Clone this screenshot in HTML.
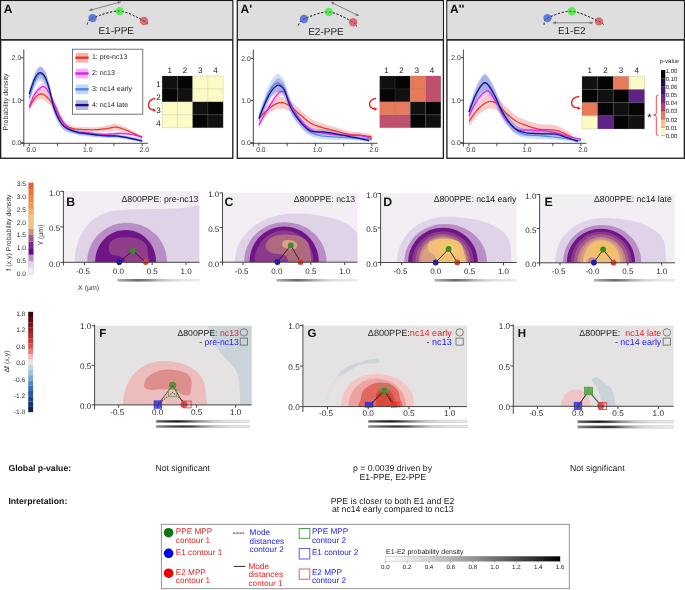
<!DOCTYPE html><html><head><meta charset="utf-8"><style>html,body{margin:0;padding:0;background:#fff;width:685px;height:590px;overflow:hidden}svg{display:block;will-change:transform}text{font-family:"Liberation Sans",sans-serif;text-rendering:geometricPrecision}</style></head><body>
<svg width="685" height="590" viewBox="0 0 685 590">
<rect x="0.65" y="0.65" width="232.15" height="157.6" fill="#fff" stroke="#1a1a1a" stroke-width="1.3"/>
<rect x="1.3" y="1.3" width="230.85" height="37.9" fill="#dedede"/>
<line x1="0.65" y1="39.8" x2="232.8" y2="39.8" stroke="#2a2a2a" stroke-width="1.7"/>
<text x="3.85" y="13.4" font-size="12" text-anchor="start" fill="#111" font-weight="bold" >A</text>
<path d="M87 24.5 L87.24 24.12 L87.42 23.64 L87.59 23.07 L87.8 22.43 L88.11 21.74 L88.54 21.01 L89.16 20.27 L90.01 19.52 L91.14 18.79 L92.6 18.1 L94.45 17.35 L96.69 16.47 L99.24 15.51 L102.03 14.53 L104.98 13.58 L108.03 12.71 L111.1 11.98 L114.12 11.43 L117.01 11.12 L119.7 11.1 L122.34 11.43 L125.08 12.1 L127.86 13.03 L130.63 14.15 L133.34 15.39 L135.93 16.69 L138.35 17.97 L140.54 19.16 L142.44 20.19 L144 21 L145.19 21.62 L146.04 22.17 L146.61 22.63 L146.95 23.03 L147.12 23.37 L147.16 23.66 L147.14 23.91 L147.1 24.13 L147.1 24.32 L147.2 24.5" fill="none" stroke="#222" stroke-width="0.85" stroke-dasharray="2.1 1.8"/>
<circle cx="92.6" cy="18.1" r="4.2" fill="#5b73e3" fill-opacity="0.95"/>
<circle cx="119.7" cy="11.1" r="4.2" fill="#55ea55" fill-opacity="0.95"/>
<circle cx="144" cy="21" r="4.2" fill="#dc6470" fill-opacity="0.95"/>
<path d="M87 24.5 L87.24 24.12 L87.42 23.64 L87.59 23.07 L87.8 22.43 L88.11 21.74 L88.54 21.01 L89.16 20.27 L90.01 19.52 L91.14 18.79 L92.6 18.1 L94.45 17.35 L96.69 16.47 L99.24 15.51 L102.03 14.53 L104.98 13.58 L108.03 12.71 L111.1 11.98 L114.12 11.43 L117.01 11.12 L119.7 11.1 L122.34 11.43 L125.08 12.1 L127.86 13.03 L130.63 14.15 L133.34 15.39 L135.93 16.69 L138.35 17.97 L140.54 19.16 L142.44 20.19 L144 21 L145.19 21.62 L146.04 22.17 L146.61 22.63 L146.95 23.03 L147.12 23.37 L147.16 23.66 L147.14 23.91 L147.1 24.13 L147.1 24.32 L147.2 24.5" fill="none" stroke="#222" stroke-width="0.8" stroke-dasharray="2.1 1.8" opacity="0.7"/>
<line x1="89.3" y1="10.4" x2="120.9" y2="1.9" stroke="#777" stroke-width="0.9"/>
<path d="M89.3 10.4 L92.78 11.02 L92 8.12 Z" fill="#777"/>
<path d="M120.9 1.9 L117.42 1.28 L118.2 4.18 Z" fill="#777"/>
<text x="116.2" y="34" font-size="10" text-anchor="middle" fill="#262626" font-weight="normal" >E1-PPE</text>
<rect x="237.3" y="0.65" width="206.1" height="157.6" fill="#fff" stroke="#1a1a1a" stroke-width="1.3"/>
<rect x="237.95" y="1.3" width="204.8" height="37.9" fill="#dedede"/>
<line x1="237.3" y1="39.8" x2="443.4" y2="39.8" stroke="#2a2a2a" stroke-width="1.7"/>
<text x="240.5" y="13.4" font-size="12" text-anchor="start" fill="#111" font-weight="bold" >A'</text>
<path d="M298.2 25.5 L298.46 25.12 L298.68 24.62 L298.92 24.04 L299.19 23.39 L299.55 22.69 L300.03 21.95 L300.68 21.19 L301.53 20.44 L302.62 19.7 L304 19 L305.71 18.24 L307.75 17.36 L310.06 16.39 L312.58 15.41 L315.24 14.46 L318 13.59 L320.8 12.85 L323.57 12.31 L326.25 12.01 L328.8 12 L331.34 12.35 L334.02 13.04 L336.78 13.99 L339.55 15.13 L342.28 16.41 L344.9 17.73 L347.35 19.05 L349.58 20.28 L351.51 21.35 L353.1 22.2 L354.31 22.88 L355.19 23.48 L355.79 24.01 L356.17 24.48 L356.37 24.89 L356.45 25.25 L356.46 25.56 L356.46 25.84 L356.49 26.08 L356.6 26.3" fill="none" stroke="#222" stroke-width="0.85" stroke-dasharray="2.1 1.8"/>
<circle cx="304" cy="19" r="4.2" fill="#5b73e3" fill-opacity="0.95"/>
<circle cx="328.8" cy="12" r="4.2" fill="#55ea55" fill-opacity="0.95"/>
<circle cx="353.1" cy="22.2" r="4.2" fill="#dc6470" fill-opacity="0.95"/>
<path d="M298.2 25.5 L298.46 25.12 L298.68 24.62 L298.92 24.04 L299.19 23.39 L299.55 22.69 L300.03 21.95 L300.68 21.19 L301.53 20.44 L302.62 19.7 L304 19 L305.71 18.24 L307.75 17.36 L310.06 16.39 L312.58 15.41 L315.24 14.46 L318 13.59 L320.8 12.85 L323.57 12.31 L326.25 12.01 L328.8 12 L331.34 12.35 L334.02 13.04 L336.78 13.99 L339.55 15.13 L342.28 16.41 L344.9 17.73 L347.35 19.05 L349.58 20.28 L351.51 21.35 L353.1 22.2 L354.31 22.88 L355.19 23.48 L355.79 24.01 L356.17 24.48 L356.37 24.89 L356.45 25.25 L356.46 25.56 L356.46 25.84 L356.49 26.08 L356.6 26.3" fill="none" stroke="#222" stroke-width="0.8" stroke-dasharray="2.1 1.8" opacity="0.7"/>
<line x1="331" y1="2.2" x2="358.9" y2="15.8" stroke="#777" stroke-width="0.9"/>
<path d="M331 2.2 L333.22 4.95 L334.53 2.25 Z" fill="#777"/>
<path d="M358.9 15.8 L356.68 13.05 L355.37 15.75 Z" fill="#777"/>
<text x="326" y="35" font-size="10" text-anchor="middle" fill="#262626" font-weight="normal" >E2-PPE</text>
<rect x="446.9" y="0.65" width="237.4" height="157.6" fill="#fff" stroke="#1a1a1a" stroke-width="1.3"/>
<rect x="447.55" y="1.3" width="236.1" height="37.9" fill="#dedede"/>
<line x1="446.9" y1="39.8" x2="684.3" y2="39.8" stroke="#2a2a2a" stroke-width="1.7"/>
<text x="450.1" y="13.4" font-size="12" text-anchor="start" fill="#111" font-weight="bold" >A''</text>
<path d="M544 24.8 L544.11 24.4 L544.14 23.89 L544.14 23.29 L544.15 22.61 L544.23 21.88 L544.43 21.11 L544.81 20.33 L545.41 19.55 L546.29 18.8 L547.5 18.1 L549.07 17.35 L550.98 16.48 L553.17 15.54 L555.59 14.58 L558.18 13.65 L560.88 12.81 L563.65 12.1 L566.43 11.58 L569.16 11.3 L571.8 11.3 L574.5 11.66 L577.4 12.35 L580.42 13.3 L583.5 14.44 L586.56 15.71 L589.52 17.03 L592.31 18.33 L594.86 19.54 L597.08 20.59 L598.9 21.4 L600.31 22.03 L601.38 22.56 L602.16 23.02 L602.69 23.41 L603.04 23.73 L603.26 24.01 L603.39 24.24 L603.49 24.44 L603.61 24.63 L603.8 24.8" fill="none" stroke="#222" stroke-width="0.85" stroke-dasharray="2.1 1.8"/>
<circle cx="547.5" cy="18.1" r="4.2" fill="#5b73e3" fill-opacity="0.95"/>
<circle cx="571.8" cy="11.3" r="4.2" fill="#55ea55" fill-opacity="0.95"/>
<circle cx="598.9" cy="21.4" r="4.2" fill="#dc6470" fill-opacity="0.95"/>
<path d="M544 24.8 L544.11 24.4 L544.14 23.89 L544.14 23.29 L544.15 22.61 L544.23 21.88 L544.43 21.11 L544.81 20.33 L545.41 19.55 L546.29 18.8 L547.5 18.1 L549.07 17.35 L550.98 16.48 L553.17 15.54 L555.59 14.58 L558.18 13.65 L560.88 12.81 L563.65 12.1 L566.43 11.58 L569.16 11.3 L571.8 11.3 L574.5 11.66 L577.4 12.35 L580.42 13.3 L583.5 14.44 L586.56 15.71 L589.52 17.03 L592.31 18.33 L594.86 19.54 L597.08 20.59 L598.9 21.4 L600.31 22.03 L601.38 22.56 L602.16 23.02 L602.69 23.41 L603.04 23.73 L603.26 24.01 L603.39 24.24 L603.49 24.44 L603.61 24.63 L603.8 24.8" fill="none" stroke="#222" stroke-width="0.8" stroke-dasharray="2.1 1.8" opacity="0.7"/>
<line x1="552.8" y1="22.8" x2="593.1" y2="22.8" stroke="#777" stroke-width="0.9"/>
<path d="M552.8 22.8 L556 24.3 L556 21.3 Z" fill="#777"/>
<path d="M593.1 22.8 L589.9 21.3 L589.9 24.3 Z" fill="#777"/>
<text x="571.8" y="34" font-size="10" text-anchor="middle" fill="#262626" font-weight="normal" >E1-E2</text>
<g stroke="#333" stroke-width="0.9" fill="none">
<line x1="23.8" y1="49.5" x2="23.8" y2="146.6"/>
<line x1="21" y1="143.3" x2="147.85" y2="143.3"/>
<line x1="21" y1="142.8" x2="23.8" y2="142.8"/>
<line x1="21" y1="100.3" x2="23.8" y2="100.3"/>
<line x1="21" y1="57.8" x2="23.8" y2="57.8"/>
<line x1="29.2" y1="143.3" x2="29.2" y2="146.2"/>
<line x1="57.45" y1="143.3" x2="57.45" y2="146.2"/>
<line x1="85.7" y1="143.3" x2="85.7" y2="146.2"/>
<line x1="113.95" y1="143.3" x2="113.95" y2="146.2"/>
<line x1="142.2" y1="143.3" x2="142.2" y2="146.2"/>
</g>
<text x="21.2" y="145.2" font-size="6.8" text-anchor="end" fill="#3a3a3a" font-weight="normal" >0.0</text>
<text x="21.2" y="102.7" font-size="6.8" text-anchor="end" fill="#3a3a3a" font-weight="normal" >1.0</text>
<text x="21.2" y="60.2" font-size="6.8" text-anchor="end" fill="#3a3a3a" font-weight="normal" >2.0</text>
<text x="31.2" y="151.9" font-size="6.8" text-anchor="middle" fill="#3a3a3a" font-weight="normal" >0.0</text>
<text x="87.7" y="151.9" font-size="6.8" text-anchor="middle" fill="#3a3a3a" font-weight="normal" >1.0</text>
<text x="144.2" y="151.9" font-size="6.8" text-anchor="middle" fill="#3a3a3a" font-weight="normal" >2.0</text>
<text transform="translate(7.8 102) rotate(-90)" font-size="7" text-anchor="middle" fill="#333">Probability density</text>
<path d="M29.2 103.28 L29.53 102.67 L29.96 101.86 L30.46 100.9 L31.03 99.83 L31.64 98.68 L32.28 97.52 L32.94 96.37 L33.59 95.29 L34.24 94.32 L34.85 93.5 L35.45 92.79 L36.06 92.11 L36.67 91.47 L37.3 90.88 L37.92 90.35 L38.55 89.88 L39.18 89.48 L39.81 89.16 L40.44 88.92 L41.06 88.78 L41.68 88.74 L42.3 88.79 L42.91 88.93 L43.52 89.14 L44.14 89.43 L44.75 89.78 L45.37 90.19 L46 90.66 L46.64 91.26 L47.28 91.94 L47.94 92.66 L48.6 93.46 L49.27 94.31 L49.95 95.23 L50.63 96.19 L51.32 97.21 L52.01 98.27 L52.69 99.37 L53.38 100.51 L54.06 101.68 L54.74 102.94 L55.43 104.31 L56.13 105.78 L56.83 107.3 L57.52 108.84 L58.21 110.37 L58.89 111.85 L59.56 113.25 L60.21 114.53 L60.84 115.67 L61.44 116.67 L62.01 117.57 L62.55 118.39 L63.07 119.14 L63.59 119.82 L64.12 120.46 L64.66 121.05 L65.23 121.62 L65.84 122.18 L66.49 122.72 L67.17 123.25 L67.87 123.74 L68.59 124.19 L69.33 124.6 L70.09 124.99 L70.88 125.35 L71.71 125.7 L72.56 126.02 L73.46 126.34 L74.4 126.65 L75.39 126.81 L76.44 126.94 L77.54 127.04 L78.68 127.12 L79.84 127.18 L81.02 127.22 L82.2 127.26 L83.39 127.28 L84.55 127.31 L85.7 127.33 L86.83 127.35 L87.96 127.37 L89.09 127.38 L90.22 127.38 L91.35 127.38 L92.48 127.36 L93.61 127.33 L94.74 127.29 L95.87 127.23 L97 127.16 L98.15 127.07 L99.33 126.95 L100.53 126.82 L101.74 126.67 L102.93 126.5 L104.11 126.26 L105.24 126.03 L106.33 125.8 L107.35 125.58 L108.3 125.38 L109.16 125.17 L109.94 124.95 L110.65 124.72 L111.31 124.5 L111.94 124.28 L112.54 124.08 L113.15 123.9 L113.76 123.75 L114.4 123.71 L115.08 123.74 L115.77 123.82 L116.45 123.93 L117.12 124.06 L117.79 124.23 L118.47 124.43 L119.18 124.65 L119.91 124.91 L120.69 125.2 L121.53 125.53 L122.42 125.89 L123.41 126.29 L124.48 126.76 L125.61 127.27 L126.8 127.82 L128 128.4 L129.22 128.99 L130.42 129.58 L131.58 130.16 L132.69 130.71 L133.72 131.24 L134.73 131.76 L135.74 132.31 L136.74 132.86 L137.73 133.42 L138.67 133.95 L139.56 134.47 L140.37 134.94 L141.09 135.36 L141.71 135.72 L142.2 136 L142.2 139.4 L141.71 139.18 L141.09 138.9 L140.37 138.56 L139.56 138.19 L138.67 137.78 L137.73 137.35 L136.74 136.92 L135.74 136.48 L134.73 136.06 L133.72 135.66 L132.69 135.26 L131.58 134.83 L130.42 134.39 L129.22 133.95 L128 133.51 L126.8 133.08 L125.61 132.67 L124.48 132.29 L123.41 131.95 L122.42 131.66 L121.53 131.42 L120.69 131.19 L119.91 130.99 L119.18 130.82 L118.47 130.68 L117.79 130.57 L117.12 130.48 L116.45 130.43 L115.77 130.4 L115.08 130.41 L114.4 130.45 L113.76 130.53 L113.15 130.58 L112.54 130.67 L111.94 130.78 L111.31 130.9 L110.65 131.03 L109.94 131.15 L109.16 131.25 L108.3 131.33 L107.35 131.39 L106.33 131.45 L105.24 131.52 L104.11 131.58 L102.93 131.64 L101.74 131.74 L100.53 131.85 L99.33 131.95 L98.15 132.03 L97 132.09 L95.87 132.13 L94.74 132.15 L93.61 132.16 L92.48 132.15 L91.35 132.14 L90.22 132.11 L89.09 132.07 L87.96 132.03 L86.83 131.98 L85.7 131.92 L84.55 131.86 L83.39 131.8 L82.2 131.74 L81.02 131.67 L79.84 131.59 L78.68 131.5 L77.54 131.39 L76.44 131.25 L75.39 131.09 L74.4 130.9 L73.46 130.82 L72.56 130.72 L71.71 130.59 L70.88 130.45 L70.09 130.28 L69.33 130.07 L68.59 129.83 L67.87 129.56 L67.17 129.24 L66.49 128.88 L65.84 128.49 L65.23 128.08 L64.66 127.65 L64.12 127.18 L63.59 126.68 L63.07 126.12 L62.55 125.5 L62.01 124.81 L61.44 124.04 L60.84 123.18 L60.21 122.2 L59.56 121.07 L58.89 119.83 L58.21 118.51 L57.52 117.15 L56.83 115.78 L56.13 114.43 L55.43 113.13 L54.74 111.92 L54.06 110.82 L53.38 109.82 L52.69 108.84 L52.01 107.91 L51.32 107.01 L50.63 106.16 L49.95 105.36 L49.27 104.61 L48.6 103.92 L47.94 103.28 L47.28 102.71 L46.64 102.19 L46 101.68 L45.37 101.12 L44.75 100.62 L44.14 100.18 L43.52 99.8 L42.91 99.49 L42.3 99.26 L41.68 99.12 L41.06 99.07 L40.44 99.11 L39.81 99.25 L39.18 99.48 L38.55 99.78 L37.92 100.16 L37.3 100.6 L36.67 101.1 L36.06 101.64 L35.45 102.23 L34.85 102.85 L34.24 103.57 L33.59 104.45 L32.94 105.43 L32.28 106.48 L31.64 107.55 L31.03 108.6 L30.46 109.59 L29.96 110.48 L29.53 111.22 L29.2 111.78 Z" fill="#f08a8a" fill-opacity="0.45"/>
<path d="M29.2 103.7 L29.53 102.87 L29.93 101.78 L30.41 100.47 L30.94 99.01 L31.53 97.45 L32.16 95.85 L32.81 94.27 L33.48 92.78 L34.17 91.41 L34.85 90.24 L35.56 89.19 L36.32 88.14 L37.13 87.13 L37.96 86.18 L38.81 85.29 L39.65 84.49 L40.48 83.81 L41.29 83.25 L42.05 82.85 L42.76 82.62 L43.42 82.57 L44.03 82.69 L44.62 82.95 L45.18 83.35 L45.73 83.85 L46.26 84.47 L46.79 85.22 L47.32 86.03 L47.86 86.88 L48.41 87.75 L48.97 88.68 L49.52 89.69 L50.07 90.77 L50.62 91.92 L51.16 93.13 L51.72 94.39 L52.28 95.69 L52.86 97.02 L53.45 98.37 L54.06 99.74 L54.69 101.17 L55.34 102.7 L56.01 104.3 L56.69 105.95 L57.38 107.61 L58.07 109.26 L58.77 110.88 L59.47 112.43 L60.16 113.89 L60.84 115.23 L61.51 116.47 L62.15 117.65 L62.79 118.77 L63.42 119.84 L64.05 120.86 L64.7 121.82 L65.38 122.73 L66.08 123.59 L66.83 124.41 L67.62 125.19 L68.47 125.91 L69.38 126.58 L70.33 127.19 L71.31 127.75 L72.32 128.27 L73.33 128.74 L74.34 129.18 L75.33 129.51 L76.3 129.8 L77.22 130.07 L78.08 130.29 L78.86 130.45 L79.58 130.56 L80.29 130.63 L81 130.68 L81.75 130.71 L82.57 130.74 L83.48 130.79 L84.51 130.86 L85.7 130.97 L87.05 131.13 L88.55 131.32 L90.16 131.53 L91.87 131.75 L93.65 131.98 L95.46 132.19 L97.3 132.39 L99.12 132.56 L100.92 132.7 L102.65 132.78 L104.37 132.8 L106.13 132.76 L107.91 132.69 L109.7 132.58 L111.48 132.46 L113.23 132.33 L114.93 132.21 L116.57 132.12 L118.13 132.05 L119.6 132.03 L120.96 132.05 L122.22 132.08 L123.41 132.13 L124.53 132.2 L125.6 132.28 L126.65 132.38 L127.69 132.5 L128.73 132.63 L129.8 132.79 L130.9 132.95 L132.08 133.16 L133.34 133.41 L134.65 133.7 L135.96 134.01 L137.26 134.32 L138.49 134.63 L139.64 134.93 L140.66 135.19 L141.53 135.41 L142.2 135.58 L142.2 138.13 L141.53 137.97 L140.66 137.76 L139.64 137.51 L138.49 137.23 L137.26 136.93 L135.96 136.63 L134.65 136.34 L133.34 136.07 L132.08 135.84 L130.9 135.65 L129.8 135.49 L128.73 135.35 L127.69 135.23 L126.65 135.13 L125.6 135.04 L124.53 134.97 L123.41 134.92 L122.22 134.88 L120.96 134.87 L119.6 134.87 L118.13 134.9 L116.57 134.99 L114.93 135.11 L113.23 135.25 L111.48 135.4 L109.7 135.54 L107.91 135.67 L106.13 135.77 L104.37 135.82 L102.65 135.82 L100.92 135.76 L99.12 135.65 L97.3 135.51 L95.46 135.33 L93.65 135.14 L91.87 134.93 L90.16 134.73 L88.55 134.54 L87.05 134.37 L85.7 134.23 L84.51 134.13 L83.48 134.07 L82.57 134.04 L81.75 134.02 L81 133.99 L80.29 133.96 L79.58 133.9 L78.86 133.8 L78.08 133.65 L77.22 133.43 L76.3 133.17 L75.33 132.89 L74.34 132.59 L73.33 132.34 L72.32 132.04 L71.31 131.71 L70.33 131.32 L69.38 130.88 L68.47 130.38 L67.62 129.81 L66.83 129.18 L66.08 128.5 L65.38 127.76 L64.7 126.97 L64.05 126.12 L63.42 125.22 L62.79 124.27 L62.15 123.26 L61.51 122.2 L60.84 121.07 L60.16 119.86 L59.47 118.52 L58.77 117.1 L58.07 115.61 L57.38 114.08 L56.69 112.54 L56.01 111.02 L55.34 109.54 L54.69 108.13 L54.06 106.81 L53.45 105.55 L52.86 104.3 L52.28 103.08 L51.72 101.88 L51.16 100.72 L50.62 99.61 L50.07 98.56 L49.52 97.58 L48.97 96.67 L48.41 95.85 L47.86 95.07 L47.32 94.32 L46.79 93.61 L46.26 92.95 L45.73 92.31 L45.18 91.75 L44.62 91.3 L44.03 90.97 L43.42 90.8 L42.76 90.78 L42.05 90.94 L41.29 91.27 L40.48 91.74 L39.65 92.34 L38.81 93.05 L37.96 93.85 L37.13 94.73 L36.32 95.66 L35.56 96.62 L34.85 97.61 L34.17 98.71 L33.48 100 L32.81 101.44 L32.16 102.95 L31.53 104.48 L30.94 105.98 L30.41 107.39 L29.93 108.65 L29.53 109.71 L29.2 110.5 Z" fill="#f2a0f2" fill-opacity="0.45"/>
<path d="M29.2 92.65 L29.54 91.53 L29.98 90.04 L30.5 88.25 L31.08 86.25 L31.71 84.13 L32.36 81.97 L33.02 79.85 L33.67 77.86 L34.28 76.07 L34.85 74.59 L35.38 73.32 L35.9 72.14 L36.42 71.05 L36.92 70.05 L37.43 69.16 L37.93 68.38 L38.43 67.71 L38.93 67.15 L39.43 66.72 L39.94 66.41 L40.45 66.23 L40.96 66.35 L41.48 66.61 L42 66.99 L42.51 67.48 L43.03 68.07 L43.54 68.75 L44.04 69.5 L44.53 70.34 L45.02 71.23 L45.49 72.21 L45.96 73.3 L46.42 74.48 L46.87 75.75 L47.32 77.1 L47.76 78.52 L48.2 79.99 L48.65 81.51 L49.09 83.07 L49.54 84.66 L49.98 86.33 L50.42 88.12 L50.84 90 L51.27 91.94 L51.69 93.91 L52.13 95.88 L52.58 97.83 L53.05 99.71 L53.54 101.51 L54.06 103.19 L54.61 104.78 L55.19 106.33 L55.8 107.84 L56.42 109.3 L57.06 110.71 L57.71 112.06 L58.36 113.36 L59 114.6 L59.65 115.77 L60.28 116.88 L60.88 117.9 L61.45 118.83 L62 119.69 L62.54 120.49 L63.1 121.23 L63.68 121.94 L64.29 122.61 L64.96 123.28 L65.69 123.94 L66.49 124.61 L67.39 125.29 L68.38 125.96 L69.45 126.61 L70.57 127.25 L71.72 127.87 L72.88 128.46 L74.03 129.02 L75.15 129.44 L76.22 129.78 L77.22 130.09 L78.13 130.34 L78.93 130.55 L79.67 130.7 L80.37 130.83 L81.07 130.93 L81.81 131.02 L82.61 131.11 L83.5 131.2 L84.52 131.32 L85.7 131.47 L87.05 131.64 L88.55 131.83 L90.16 132.03 L91.87 132.23 L93.65 132.44 L95.46 132.65 L97.3 132.85 L99.12 133.04 L100.92 133.22 L102.65 133.38 L104.37 133.52 L106.13 133.63 L107.91 133.74 L109.7 133.83 L111.48 133.91 L113.23 134 L114.93 134.09 L116.57 134.19 L118.13 134.31 L119.6 134.44 L120.96 134.59 L122.22 134.75 L123.41 134.91 L124.53 135.08 L125.6 135.26 L126.65 135.45 L127.69 135.64 L128.73 135.85 L129.8 136.06 L130.9 136.28 L132.08 136.53 L133.34 136.81 L134.65 137.11 L135.96 137.43 L137.26 137.74 L138.49 138.05 L139.64 138.34 L140.66 138.6 L141.53 138.81 L142.2 138.98 L142.2 142.38 L141.53 142.23 L140.66 142.03 L139.64 141.8 L138.49 141.54 L137.26 141.27 L135.96 140.98 L134.65 140.7 L133.34 140.43 L132.08 140.18 L130.9 139.97 L129.8 139.77 L128.73 139.59 L127.69 139.41 L126.65 139.24 L125.6 139.08 L124.53 138.92 L123.41 138.78 L122.22 138.65 L120.96 138.52 L119.6 138.41 L118.13 138.31 L116.57 138.24 L114.93 138.18 L113.23 138.13 L111.48 138.09 L109.7 138.04 L107.91 138 L106.13 137.94 L104.37 137.86 L102.65 137.77 L100.92 137.66 L99.12 137.52 L97.3 137.38 L95.46 137.22 L93.65 137.06 L91.87 136.9 L90.16 136.73 L88.55 136.57 L87.05 136.42 L85.7 136.28 L84.52 136.17 L83.5 136.08 L82.61 136 L81.81 135.93 L81.07 135.86 L80.37 135.78 L79.67 135.67 L78.93 135.53 L78.13 135.35 L77.22 135.11 L76.22 134.83 L75.15 134.52 L74.03 134.23 L72.88 134.02 L71.72 133.77 L70.57 133.5 L69.45 133.2 L68.38 132.87 L67.39 132.5 L66.49 132.09 L65.69 131.66 L64.96 131.22 L64.29 130.76 L63.68 130.26 L63.1 129.73 L62.54 129.15 L62 128.52 L61.45 127.83 L60.88 127.07 L60.28 126.23 L59.65 125.31 L59 124.33 L58.36 123.29 L57.71 122.18 L57.06 121.02 L56.42 119.81 L55.8 118.54 L55.19 117.21 L54.61 115.84 L54.06 114.41 L53.54 112.89 L53.05 111.24 L52.58 109.49 L52.13 107.68 L51.69 105.84 L51.27 104 L50.84 102.18 L50.42 100.43 L49.98 98.77 L49.54 97.24 L49.09 95.79 L48.65 94.36 L48.2 92.97 L47.76 91.63 L47.32 90.35 L46.87 89.14 L46.42 88 L45.96 86.95 L45.49 86.01 L45.02 85.17 L44.53 84.42 L44.04 83.74 L43.54 83.13 L43.03 82.61 L42.51 82.17 L42 81.84 L41.48 81.62 L40.96 81.51 L40.45 81.51 L39.94 81.49 L39.43 81.61 L38.93 81.86 L38.43 82.23 L37.93 82.71 L37.43 83.31 L36.92 84.01 L36.42 84.81 L35.9 85.71 L35.38 86.69 L34.85 87.76 L34.28 89.04 L33.67 90.59 L33.02 92.34 L32.36 94.21 L31.71 96.12 L31.08 98.01 L30.5 99.79 L29.98 101.38 L29.54 102.71 L29.2 103.7 Z" fill="#a8c0f4" fill-opacity="0.5"/>
<path d="M29.2 89.68 L29.54 88.64 L29.98 87.26 L30.5 85.6 L31.08 83.74 L31.71 81.78 L32.36 79.79 L33.02 77.84 L33.67 76.02 L34.28 74.42 L34.85 73.1 L35.38 72.01 L35.9 71.03 L36.42 70.15 L36.92 69.37 L37.43 68.7 L37.93 68.13 L38.43 67.65 L38.93 67.28 L39.43 67 L39.94 66.81 L40.45 66.72 L40.96 66.85 L41.48 67.09 L42 67.43 L42.51 67.86 L43.03 68.38 L43.54 69 L44.04 69.69 L44.53 70.47 L45.02 71.32 L45.49 72.26 L45.96 73.3 L46.42 74.45 L46.87 75.68 L47.32 76.99 L47.76 78.37 L48.2 79.81 L48.65 81.3 L49.09 82.83 L49.54 84.41 L49.98 86.06 L50.42 87.85 L50.84 89.73 L51.27 91.67 L51.69 93.65 L52.13 95.65 L52.58 97.64 L53.05 99.57 L53.54 101.42 L54.06 103.15 L54.61 104.8 L55.19 106.43 L55.8 108.03 L56.42 109.58 L57.06 111.09 L57.71 112.53 L58.36 113.91 L59 115.22 L59.65 116.44 L60.28 117.57 L60.88 118.58 L61.45 119.49 L62 120.3 L62.54 121.04 L63.1 121.71 L63.68 122.34 L64.29 122.94 L64.96 123.53 L65.69 124.13 L66.49 124.76 L67.39 125.4 L68.38 126.04 L69.45 126.67 L70.57 127.29 L71.72 127.89 L72.88 128.47 L74.03 129.01 L75.15 129.43 L76.22 129.78 L77.22 130.09 L78.13 130.34 L78.93 130.54 L79.67 130.69 L80.37 130.81 L81.07 130.9 L81.81 130.99 L82.61 131.08 L83.5 131.18 L84.52 131.3 L85.7 131.47 L87.06 131.67 L88.59 131.9 L90.25 132.15 L92.01 132.42 L93.82 132.68 L95.67 132.95 L97.51 133.2 L99.31 133.43 L101.03 133.64 L102.65 133.8 L104.18 133.93 L105.66 134 L107.1 134.05 L108.5 134.07 L109.89 134.08 L111.26 134.1 L112.63 134.12 L114 134.18 L115.38 134.27 L116.78 134.41 L118.2 134.59 L119.65 134.82 L121.1 135.07 L122.56 135.35 L124.01 135.64 L125.45 135.94 L126.87 136.25 L128.26 136.56 L129.6 136.85 L130.9 137.13 L132.2 137.42 L133.52 137.72 L134.85 138.03 L136.17 138.34 L137.43 138.65 L138.63 138.94 L139.73 139.22 L140.71 139.46 L141.54 139.67 L142.2 139.83 L142.2 142.38 L141.54 142.23 L140.71 142.05 L139.73 141.83 L138.63 141.58 L137.43 141.32 L136.17 141.04 L134.85 140.76 L133.52 140.48 L132.2 140.22 L130.9 139.97 L129.6 139.72 L128.26 139.46 L126.87 139.19 L125.45 138.91 L124.01 138.65 L122.56 138.39 L121.1 138.15 L119.65 137.93 L118.2 137.74 L116.78 137.59 L115.38 137.49 L114 137.43 L112.63 137.42 L111.26 137.42 L109.89 137.44 L108.5 137.46 L107.1 137.48 L105.66 137.47 L104.18 137.43 L102.65 137.35 L101.03 137.22 L99.31 137.06 L97.51 136.87 L95.67 136.66 L93.82 136.45 L92.01 136.22 L90.25 136 L88.59 135.79 L87.06 135.6 L85.7 135.43 L84.52 135.3 L83.5 135.2 L82.61 135.12 L81.81 135.05 L81.07 134.99 L80.37 134.91 L79.67 134.81 L78.93 134.68 L78.13 134.5 L77.22 134.26 L76.22 133.98 L75.15 133.66 L74.03 133.36 L72.88 133.12 L71.72 132.85 L70.57 132.55 L69.45 132.23 L68.38 131.88 L67.39 131.5 L66.49 131.09 L65.69 130.68 L64.96 130.27 L64.29 129.85 L63.68 129.41 L63.1 128.93 L62.54 128.41 L62 127.82 L61.45 127.15 L60.88 126.39 L60.28 125.53 L59.65 124.57 L59 123.52 L58.36 122.39 L57.71 121.18 L57.06 119.9 L56.42 118.56 L55.8 117.17 L55.19 115.74 L54.61 114.26 L54.06 112.75 L53.54 111.16 L53.05 109.44 L52.58 107.63 L52.13 105.77 L51.69 103.87 L51.27 101.95 L50.84 100.07 L50.42 98.26 L49.98 96.54 L49.54 94.95 L49.09 93.44 L48.65 91.97 L48.2 90.55 L47.76 89.17 L47.32 87.86 L46.87 86.62 L46.42 85.46 L45.96 84.38 L45.49 83.41 L45.02 82.54 L44.53 81.76 L44.04 81.06 L43.54 80.44 L43.03 79.9 L42.51 79.46 L42 79.1 L41.48 78.84 L40.96 78.68 L40.45 78.61 L39.94 78.54 L39.43 78.57 L38.93 78.7 L38.43 78.93 L37.93 79.25 L37.43 79.68 L36.92 80.2 L36.42 80.82 L35.9 81.54 L35.38 82.37 L34.85 83.3 L34.28 84.44 L33.67 85.87 L33.02 87.49 L32.36 89.24 L31.71 91.04 L31.08 92.81 L30.5 94.49 L29.98 95.99 L29.54 97.24 L29.2 98.18 Z" fill="#8888cc" fill-opacity="0.45"/>
<path d="M29.2 107.53 L29.53 106.95 L29.96 106.17 L30.46 105.25 L31.03 104.21 L31.64 103.12 L32.28 102 L32.94 100.9 L33.59 99.87 L34.24 98.95 L34.85 98.18 L35.45 97.51 L36.06 96.88 L36.67 96.28 L37.3 95.74 L37.92 95.25 L38.55 94.83 L39.18 94.48 L39.81 94.2 L40.44 94.02 L41.06 93.93 L41.68 93.93 L42.3 94.03 L42.91 94.21 L43.52 94.47 L44.14 94.8 L44.75 95.2 L45.37 95.66 L46 96.17 L46.64 96.73 L47.28 97.33 L47.94 97.97 L48.6 98.69 L49.27 99.46 L49.95 100.29 L50.63 101.18 L51.32 102.11 L52.01 103.09 L52.69 104.1 L53.38 105.16 L54.06 106.25 L54.74 107.43 L55.43 108.72 L56.13 110.1 L56.83 111.54 L57.52 113 L58.21 114.44 L58.89 115.84 L59.56 117.16 L60.21 118.36 L60.84 119.43 L61.44 120.35 L62.01 121.19 L62.55 121.94 L63.07 122.63 L63.59 123.25 L64.12 123.82 L64.66 124.35 L65.23 124.85 L65.84 125.33 L66.49 125.8 L67.17 126.24 L67.87 126.65 L68.59 127.01 L69.33 127.34 L70.09 127.63 L70.88 127.9 L71.71 128.15 L72.56 128.37 L73.46 128.58 L74.4 128.78 L75.39 128.95 L76.44 129.09 L77.54 129.21 L78.68 129.31 L79.84 129.39 L81.02 129.45 L82.2 129.5 L83.39 129.54 L84.55 129.58 L85.7 129.62 L86.83 129.67 L87.96 129.7 L89.09 129.73 L90.22 129.75 L91.35 129.76 L92.48 129.76 L93.61 129.75 L94.74 129.72 L95.87 129.68 L97 129.62 L98.15 129.55 L99.33 129.45 L100.53 129.34 L101.74 129.21 L102.93 129.07 L104.11 128.92 L105.24 128.77 L106.33 128.63 L107.35 128.48 L108.3 128.35 L109.16 128.21 L109.94 128.05 L110.65 127.87 L111.31 127.7 L111.94 127.53 L112.54 127.37 L113.15 127.24 L113.76 127.14 L114.4 127.08 L115.08 127.08 L115.77 127.11 L116.45 127.18 L117.12 127.27 L117.79 127.4 L118.47 127.55 L119.18 127.74 L119.91 127.95 L120.69 128.2 L121.53 128.47 L122.42 128.78 L123.41 129.12 L124.48 129.53 L125.61 129.97 L126.8 130.45 L128 130.95 L129.22 131.47 L130.42 131.99 L131.58 132.49 L132.69 132.99 L133.72 133.45 L134.73 133.91 L135.74 134.4 L136.74 134.89 L137.73 135.38 L138.67 135.87 L139.56 136.33 L140.37 136.75 L141.09 137.13 L141.71 137.45 L142.2 137.7" fill="none" stroke="#e8392a" stroke-width="1.25"/>
<path d="M29.2 107.1 L29.53 106.29 L29.93 105.21 L30.41 103.93 L30.94 102.49 L31.53 100.96 L32.16 99.4 L32.81 97.86 L33.48 96.39 L34.17 95.06 L34.85 93.93 L35.56 92.91 L36.32 91.9 L37.13 90.93 L37.96 90.02 L38.81 89.17 L39.65 88.42 L40.48 87.77 L41.29 87.26 L42.05 86.9 L42.76 86.7 L43.42 86.68 L44.03 86.83 L44.62 87.12 L45.18 87.55 L45.73 88.08 L46.26 88.71 L46.79 89.41 L47.32 90.17 L47.86 90.98 L48.41 91.8 L48.97 92.67 L49.52 93.63 L50.07 94.67 L50.62 95.77 L51.16 96.93 L51.72 98.13 L52.28 99.38 L52.86 100.66 L53.45 101.96 L54.06 103.28 L54.69 104.65 L55.34 106.12 L56.01 107.66 L56.69 109.25 L57.38 110.85 L58.07 112.43 L58.77 113.99 L59.47 115.47 L60.16 116.87 L60.84 118.15 L61.51 119.33 L62.15 120.46 L62.79 121.52 L63.42 122.53 L64.05 123.49 L64.7 124.39 L65.38 125.24 L66.08 126.04 L66.83 126.8 L67.62 127.5 L68.47 128.15 L69.38 128.73 L70.33 129.26 L71.31 129.73 L72.32 130.16 L73.33 130.54 L74.34 130.89 L75.33 131.2 L76.3 131.49 L77.22 131.75 L78.08 131.97 L78.86 132.12 L79.58 132.23 L80.29 132.29 L81 132.33 L81.75 132.36 L82.57 132.39 L83.48 132.43 L84.51 132.5 L85.7 132.6 L87.05 132.75 L88.55 132.93 L90.16 133.13 L91.87 133.34 L93.65 133.56 L95.46 133.76 L97.3 133.95 L99.12 134.11 L100.92 134.23 L102.65 134.3 L104.37 134.31 L106.13 134.27 L107.91 134.18 L109.7 134.06 L111.48 133.93 L113.23 133.79 L114.93 133.66 L116.57 133.55 L118.13 133.48 L119.6 133.45 L120.96 133.46 L122.22 133.48 L123.41 133.53 L124.53 133.59 L125.6 133.66 L126.65 133.76 L127.69 133.87 L128.73 133.99 L129.8 134.14 L130.9 134.3 L132.08 134.5 L133.34 134.74 L134.65 135.02 L135.96 135.32 L137.26 135.63 L138.49 135.93 L139.64 136.22 L140.66 136.48 L141.53 136.69 L142.2 136.85" fill="none" stroke="#e41fe6" stroke-width="1.25"/>
<path d="M29.2 98.18 L29.54 97.12 L29.98 95.71 L30.5 94.02 L31.08 92.13 L31.71 90.13 L32.36 88.09 L33.02 86.09 L33.67 84.22 L34.28 82.56 L34.85 81.18 L35.38 80 L35.9 78.92 L36.42 77.93 L36.92 77.03 L37.43 76.23 L37.93 75.54 L38.43 74.97 L38.93 74.5 L39.43 74.16 L39.94 73.95 L40.45 73.87 L40.96 73.93 L41.48 74.11 L42 74.42 L42.51 74.83 L43.03 75.34 L43.54 75.94 L44.04 76.62 L44.53 77.38 L45.02 78.2 L45.49 79.11 L45.96 80.12 L46.42 81.24 L46.87 82.44 L47.32 83.73 L47.76 85.07 L48.2 86.48 L48.65 87.94 L49.09 89.43 L49.54 90.95 L49.98 92.55 L50.42 94.28 L50.84 96.09 L51.27 97.97 L51.69 99.88 L52.13 101.78 L52.58 103.66 L53.05 105.47 L53.54 107.2 L54.06 108.8 L54.61 110.31 L55.19 111.77 L55.8 113.19 L56.42 114.55 L57.06 115.87 L57.71 117.12 L58.36 118.32 L59 119.46 L59.65 120.54 L60.28 121.55 L60.88 122.48 L61.45 123.33 L62 124.11 L62.54 124.82 L63.1 125.48 L63.68 126.1 L64.29 126.68 L64.96 127.25 L65.69 127.8 L66.49 128.35 L67.39 128.89 L68.38 129.41 L69.45 129.91 L70.57 130.38 L71.72 130.82 L72.88 131.24 L74.03 131.62 L75.15 131.98 L76.22 132.31 L77.22 132.6 L78.13 132.85 L78.93 133.04 L79.67 133.19 L80.37 133.3 L81.07 133.4 L81.81 133.48 L82.61 133.55 L83.5 133.64 L84.52 133.74 L85.7 133.88 L87.05 134.03 L88.55 134.2 L90.16 134.38 L91.87 134.57 L93.65 134.75 L95.46 134.94 L97.3 135.11 L99.12 135.28 L100.92 135.44 L102.65 135.58 L104.37 135.69 L106.13 135.79 L107.91 135.87 L109.7 135.94 L111.48 136 L113.23 136.06 L114.93 136.13 L116.57 136.21 L118.13 136.31 L119.6 136.43 L120.96 136.56 L122.22 136.7 L123.41 136.85 L124.53 137 L125.6 137.17 L126.65 137.34 L127.69 137.53 L128.73 137.72 L129.8 137.92 L130.9 138.12 L132.08 138.36 L133.34 138.62 L134.65 138.91 L135.96 139.21 L137.26 139.51 L138.49 139.8 L139.64 140.07 L140.66 140.31 L141.53 140.52 L142.2 140.68" fill="none" stroke="#4a86f0" stroke-width="1.25"/>
<path d="M29.2 93.93 L29.54 92.94 L29.98 91.62 L30.5 90.04 L31.08 88.28 L31.71 86.41 L32.36 84.51 L33.02 82.66 L33.67 80.94 L34.28 79.43 L34.85 78.2 L35.38 77.19 L35.9 76.29 L36.42 75.48 L36.92 74.79 L37.43 74.19 L37.93 73.69 L38.43 73.29 L38.93 72.99 L39.43 72.79 L39.94 72.68 L40.45 72.67 L40.96 72.76 L41.48 72.96 L42 73.26 L42.51 73.66 L43.03 74.14 L43.54 74.72 L44.04 75.37 L44.53 76.11 L45.02 76.93 L45.49 77.83 L45.96 78.84 L46.42 79.95 L46.87 81.15 L47.32 82.42 L47.76 83.77 L48.2 85.18 L48.65 86.64 L49.09 88.14 L49.54 89.68 L49.98 91.3 L50.42 93.05 L50.84 94.9 L51.27 96.81 L51.69 98.76 L52.13 100.71 L52.58 102.64 L53.05 104.51 L53.54 106.29 L54.06 107.95 L54.61 109.53 L55.19 111.08 L55.8 112.6 L56.42 114.07 L57.06 115.49 L57.71 116.85 L58.36 118.15 L59 119.37 L59.65 120.5 L60.28 121.55 L60.88 122.49 L61.45 123.32 L62 124.06 L62.54 124.72 L63.1 125.32 L63.68 125.87 L64.29 126.4 L64.96 126.9 L65.69 127.41 L66.49 127.93 L67.39 128.45 L68.38 128.96 L69.45 129.45 L70.57 129.92 L71.72 130.37 L72.88 130.79 L74.03 131.19 L75.15 131.55 L76.22 131.88 L77.22 132.18 L78.13 132.42 L78.93 132.61 L79.67 132.75 L80.37 132.86 L81.07 132.95 L81.81 133.02 L82.61 133.1 L83.5 133.19 L84.52 133.3 L85.7 133.45 L87.06 133.64 L88.59 133.85 L90.25 134.08 L92.01 134.32 L93.82 134.57 L95.67 134.81 L97.51 135.04 L99.31 135.25 L101.03 135.43 L102.65 135.58 L104.18 135.68 L105.66 135.73 L107.1 135.76 L108.5 135.77 L109.89 135.76 L111.26 135.76 L112.63 135.77 L114 135.81 L115.38 135.88 L116.78 136 L118.2 136.17 L119.65 136.37 L121.1 136.61 L122.56 136.87 L124.01 137.14 L125.45 137.43 L126.87 137.72 L128.26 138.01 L129.6 138.29 L130.9 138.55 L132.2 138.82 L133.52 139.1 L134.85 139.4 L136.17 139.69 L137.43 139.98 L138.63 140.26 L139.73 140.52 L140.71 140.75 L141.54 140.95 L142.2 141.1" fill="none" stroke="#101088" stroke-width="1.25"/>
<rect x="72.5" y="49.2" width="70.3" height="65" fill="#fff" stroke="#555" stroke-width="0.8"/>
<rect x="75.8" y="52.8" width="12.5" height="9.8" fill="#f4b4b0"/>
<line x1="75.3" y1="57.7" x2="88.6" y2="57.7" stroke="#e8392a" stroke-width="2.4"/>
<rect x="75.8" y="68.6" width="12.5" height="9.8" fill="#f4b0f4"/>
<line x1="75.3" y1="73.5" x2="88.6" y2="73.5" stroke="#e41fe6" stroke-width="2.4"/>
<rect x="75.8" y="84.4" width="12.5" height="9.8" fill="#c4d6f8"/>
<line x1="75.3" y1="89.3" x2="88.6" y2="89.3" stroke="#4a86f0" stroke-width="2.4"/>
<rect x="75.8" y="100.2" width="12.5" height="9.8" fill="#b8b8dc"/>
<line x1="75.3" y1="105.1" x2="88.6" y2="105.1" stroke="#101088" stroke-width="2.4"/>
<text x="91.9" y="59.3" font-size="7" text-anchor="start" fill="#222" font-weight="normal" >1: pre-nc13</text>
<text x="91.9" y="75.1" font-size="7" text-anchor="start" fill="#222" font-weight="normal" >2: nc13</text>
<text x="91.9" y="90.9" font-size="7" text-anchor="start" fill="#222" font-weight="normal" >3: nc14 early</text>
<text x="91.9" y="106.7" font-size="7" text-anchor="start" fill="#222" font-weight="normal" >4: nc14 late</text>
<rect x="162.1" y="76" width="15.3" height="12.98" fill="#111"/>
<rect x="177.35" y="76" width="15.3" height="12.98" fill="#050505"/>
<rect x="192.6" y="76" width="15.3" height="12.98" fill="#fcfbc6"/>
<rect x="207.85" y="76" width="15.3" height="12.98" fill="#fcfbc6"/>
<rect x="162.1" y="88.92" width="15.3" height="12.98" fill="#050505"/>
<rect x="177.35" y="88.92" width="15.3" height="12.98" fill="#111"/>
<rect x="192.6" y="88.92" width="15.3" height="12.98" fill="#fcfbc6"/>
<rect x="207.85" y="88.92" width="15.3" height="12.98" fill="#fcfbc6"/>
<rect x="162.1" y="101.85" width="15.3" height="12.98" fill="#fcfbc6"/>
<rect x="177.35" y="101.85" width="15.3" height="12.98" fill="#fcfbc6"/>
<rect x="192.6" y="101.85" width="15.3" height="12.98" fill="#111"/>
<rect x="207.85" y="101.85" width="15.3" height="12.98" fill="#050505"/>
<rect x="162.1" y="114.78" width="15.3" height="12.98" fill="#fcfbc6"/>
<rect x="177.35" y="114.78" width="15.3" height="12.98" fill="#fcfbc6"/>
<rect x="192.6" y="114.78" width="15.3" height="12.98" fill="#050505"/>
<rect x="207.85" y="114.78" width="15.3" height="12.98" fill="#111"/>
<g stroke="#777" stroke-width="0.35" stroke-opacity="0.6">
<line x1="162.1" y1="76" x2="162.1" y2="127.7"/>
<line x1="162.1" y1="76" x2="223.1" y2="76"/>
<line x1="177.35" y1="76" x2="177.35" y2="127.7"/>
<line x1="162.1" y1="88.92" x2="223.1" y2="88.92"/>
<line x1="192.6" y1="76" x2="192.6" y2="127.7"/>
<line x1="162.1" y1="101.85" x2="223.1" y2="101.85"/>
<line x1="207.85" y1="76" x2="207.85" y2="127.7"/>
<line x1="162.1" y1="114.78" x2="223.1" y2="114.78"/>
<line x1="223.1" y1="76" x2="223.1" y2="127.7"/>
<line x1="162.1" y1="127.7" x2="223.1" y2="127.7"/>
</g>
<text x="169.72" y="72.9" font-size="8" text-anchor="middle" fill="#111" font-weight="normal" >1</text>
<text x="184.97" y="72.9" font-size="8" text-anchor="middle" fill="#111" font-weight="normal" >2</text>
<text x="200.22" y="72.9" font-size="8" text-anchor="middle" fill="#111" font-weight="normal" >3</text>
<text x="215.47" y="72.9" font-size="8" text-anchor="middle" fill="#111" font-weight="normal" >4</text>
<text x="160.6" y="87.36" font-size="8" text-anchor="end" fill="#111" font-weight="normal" >1</text>
<text x="160.6" y="100.29" font-size="8" text-anchor="end" fill="#111" font-weight="normal" >2</text>
<text x="160.6" y="113.21" font-size="8" text-anchor="end" fill="#111" font-weight="normal" >3</text>
<text x="160.6" y="126.14" font-size="8" text-anchor="end" fill="#111" font-weight="normal" >4</text>
<path d="M155.3 98.3 C146.5 99.8 146.5 109.2 154 110.2" fill="none" stroke="#ee1c1c" stroke-width="1.35"/>
<path d="M156.2 110.2 L153 108.3 L153.6 112.1 Z" fill="#ee1c1c"/>
<g stroke="#333" stroke-width="0.9" fill="none">
<line x1="253.3" y1="49.5" x2="253.3" y2="146.6"/>
<line x1="250.5" y1="143.3" x2="377.55" y2="143.3"/>
<line x1="250.5" y1="142.8" x2="253.3" y2="142.8"/>
<line x1="250.5" y1="100.6" x2="253.3" y2="100.6"/>
<line x1="250.5" y1="58.4" x2="253.3" y2="58.4"/>
<line x1="258.9" y1="143.3" x2="258.9" y2="146.2"/>
<line x1="287.15" y1="143.3" x2="287.15" y2="146.2"/>
<line x1="315.4" y1="143.3" x2="315.4" y2="146.2"/>
<line x1="343.65" y1="143.3" x2="343.65" y2="146.2"/>
<line x1="371.9" y1="143.3" x2="371.9" y2="146.2"/>
</g>
<text x="250.7" y="145.2" font-size="6.8" text-anchor="end" fill="#3a3a3a" font-weight="normal" >0.0</text>
<text x="250.7" y="103" font-size="6.8" text-anchor="end" fill="#3a3a3a" font-weight="normal" >1.0</text>
<text x="250.7" y="60.8" font-size="6.8" text-anchor="end" fill="#3a3a3a" font-weight="normal" >2.0</text>
<text x="260.9" y="151.9" font-size="6.8" text-anchor="middle" fill="#3a3a3a" font-weight="normal" >0.0</text>
<text x="317.4" y="151.9" font-size="6.8" text-anchor="middle" fill="#3a3a3a" font-weight="normal" >1.0</text>
<text x="373.9" y="151.9" font-size="6.8" text-anchor="middle" fill="#3a3a3a" font-weight="normal" >2.0</text>
<path d="M258.9 114.1 L259.4 113.55 L260.05 112.83 L260.82 111.97 L261.68 111.01 L262.61 109.98 L263.58 108.91 L264.57 107.85 L265.54 106.83 L266.49 105.88 L267.38 105.03 L268.23 104.25 L269.1 103.48 L269.97 102.73 L270.85 102 L271.72 101.3 L272.58 100.64 L273.43 100.02 L274.26 99.45 L275.07 98.94 L275.85 98.49 L276.59 98.1 L277.31 97.76 L277.99 97.46 L278.66 97.22 L279.31 97.02 L279.96 96.87 L280.61 96.76 L281.26 96.7 L281.94 96.74 L282.63 96.86 L283.34 97.03 L284.04 97.25 L284.76 97.52 L285.47 97.83 L286.2 98.2 L286.93 98.6 L287.67 99.05 L288.42 99.53 L289.19 100.05 L289.97 100.6 L290.76 101.19 L291.55 101.84 L292.35 102.52 L293.15 103.25 L293.97 104.02 L294.8 104.81 L295.66 105.63 L296.56 106.47 L297.48 107.33 L298.45 108.2 L299.47 109.11 L300.53 110.1 L301.63 111.13 L302.77 112.2 L303.92 113.27 L305.09 114.33 L306.27 115.36 L307.44 116.33 L308.61 117.24 L309.75 118.04 L310.88 118.76 L312.01 119.41 L313.14 120 L314.27 120.54 L315.4 121.04 L316.53 121.49 L317.66 121.91 L318.79 122.32 L319.92 122.73 L321.05 123.13 L322.15 123.53 L323.22 123.88 L324.26 124.2 L325.3 124.5 L326.35 124.8 L327.42 125.09 L328.54 125.39 L329.73 125.7 L330.99 126.05 L332.35 126.43 L333.84 126.86 L335.47 127.34 L337.2 127.85 L338.99 128.38 L340.82 128.92 L342.66 129.45 L344.45 129.95 L346.18 130.41 L347.81 130.82 L349.3 131.15 L350.66 131.41 L351.92 131.6 L353.11 131.74 L354.23 131.84 L355.3 131.91 L356.35 131.97 L357.39 132.03 L358.43 132.1 L359.5 132.2 L360.6 132.33 L361.78 132.51 L363.04 132.72 L364.35 132.94 L365.66 133.18 L366.96 133.42 L368.19 133.66 L369.34 133.87 L370.36 134.07 L371.23 134.24 L371.9 134.36 L371.9 139.42 L371.23 139.34 L370.36 139.23 L369.34 139.09 L368.19 138.94 L366.96 138.78 L365.66 138.62 L364.35 138.46 L363.04 138.31 L361.78 138.18 L360.6 138.07 L359.5 138 L358.43 137.97 L357.39 137.96 L356.35 137.96 L355.3 137.97 L354.23 137.96 L353.11 137.93 L351.92 137.86 L350.66 137.74 L349.3 137.57 L347.81 137.32 L346.18 137.01 L344.45 136.65 L342.66 136.26 L340.82 135.84 L338.99 135.41 L337.2 134.99 L335.47 134.58 L333.84 134.19 L332.35 133.85 L330.99 133.56 L329.73 133.29 L328.54 133.04 L327.42 132.81 L326.35 132.58 L325.3 132.35 L324.26 132.11 L323.22 131.85 L322.15 131.56 L321.05 131.24 L319.92 130.9 L318.79 130.56 L317.66 130.22 L316.53 129.86 L315.4 129.48 L314.27 129.09 L313.14 128.66 L312.01 128.19 L310.88 127.65 L309.75 127.05 L308.61 126.35 L307.44 125.57 L306.27 124.71 L305.09 123.8 L303.92 122.85 L302.77 121.89 L301.63 120.94 L300.53 120.02 L299.47 119.14 L298.45 118.32 L297.48 117.55 L296.56 116.79 L295.66 116.04 L294.8 115.3 L293.97 114.59 L293.15 113.91 L292.35 113.26 L291.55 112.65 L290.76 112.09 L289.97 111.57 L289.19 111.1 L288.42 110.66 L287.67 110.25 L286.93 109.88 L286.2 109.54 L285.47 109.25 L284.76 109.01 L284.04 108.81 L283.34 108.66 L282.63 108.56 L281.94 108.51 L281.26 108.48 L280.61 108.44 L279.96 108.45 L279.31 108.51 L278.66 108.61 L277.99 108.75 L277.31 108.95 L276.59 109.18 L275.85 109.46 L275.07 109.8 L274.26 110.19 L273.43 110.63 L272.58 111.13 L271.72 111.66 L270.85 112.23 L269.97 112.83 L269.1 113.45 L268.23 114.09 L267.38 114.74 L266.49 115.45 L265.54 116.26 L264.57 117.14 L263.58 118.05 L262.61 118.97 L261.68 119.86 L260.82 120.7 L260.05 121.44 L259.4 122.07 L258.9 122.54 Z" fill="#f08a8a" fill-opacity="0.45"/>
<path d="M258.9 121.7 L259.4 120.77 L260.05 119.56 L260.82 118.13 L261.68 116.53 L262.61 114.81 L263.58 113.02 L264.57 111.21 L265.54 109.43 L266.49 107.74 L267.38 106.19 L268.24 104.7 L269.12 103.18 L270.01 101.65 L270.9 100.13 L271.79 98.64 L272.66 97.2 L273.52 95.84 L274.34 94.56 L275.12 93.4 L275.85 92.37 L276.53 91.46 L277.18 90.64 L277.79 89.91 L278.37 89.26 L278.92 88.7 L279.46 88.22 L279.98 87.82 L280.49 87.5 L280.99 87.26 L281.5 87.1 L281.99 87.06 L282.46 87.1 L282.9 87.21 L283.34 87.41 L283.76 87.69 L284.18 88.04 L284.62 88.48 L285.06 89.01 L285.53 89.63 L286.02 90.33 L286.53 91.16 L287.06 92.13 L287.6 93.21 L288.14 94.39 L288.7 95.64 L289.27 96.93 L289.86 98.25 L290.45 99.56 L291.05 100.84 L291.67 102.08 L292.29 103.29 L292.93 104.53 L293.57 105.79 L294.22 107.05 L294.88 108.32 L295.56 109.57 L296.26 110.81 L296.97 112.01 L297.7 113.19 L298.45 114.32 L299.23 115.42 L300.04 116.51 L300.87 117.58 L301.72 118.64 L302.58 119.66 L303.45 120.65 L304.33 121.6 L305.2 122.5 L306.07 123.34 L306.92 124.13 L307.73 124.84 L308.48 125.48 L309.2 126.06 L309.91 126.58 L310.63 127.07 L311.4 127.53 L312.23 127.98 L313.16 128.41 L314.21 128.85 L315.4 129.3 L316.75 129.69 L318.25 130.07 L319.86 130.44 L321.57 130.79 L323.35 131.13 L325.16 131.45 L327 131.75 L328.82 132.02 L330.62 132.27 L332.35 132.5 L334.07 132.7 L335.83 132.87 L337.61 133 L339.4 133.12 L341.18 133.22 L342.93 133.3 L344.63 133.37 L346.27 133.45 L347.83 133.52 L349.3 133.6 L350.66 133.67 L351.92 133.71 L353.11 133.74 L354.23 133.75 L355.3 133.77 L356.35 133.8 L357.39 133.84 L358.43 133.92 L359.5 134.03 L360.6 134.19 L361.78 134.41 L363.04 134.7 L364.35 135.04 L365.66 135.41 L366.96 135.79 L368.19 136.17 L369.34 136.53 L370.36 136.85 L371.23 137.12 L371.9 137.31 L371.9 139.85 L371.23 139.67 L370.36 139.43 L369.34 139.14 L368.19 138.81 L366.96 138.47 L365.66 138.13 L364.35 137.8 L363.04 137.5 L361.78 137.25 L360.6 137.06 L359.5 136.93 L358.43 136.85 L357.39 136.81 L356.35 136.79 L355.3 136.8 L354.23 136.81 L353.11 136.83 L351.92 136.84 L350.66 136.84 L349.3 136.81 L347.83 136.77 L346.27 136.74 L344.63 136.72 L342.93 136.7 L341.18 136.67 L339.4 136.62 L337.61 136.56 L335.83 136.48 L334.07 136.36 L332.35 136.22 L330.62 136.04 L328.82 135.84 L327 135.62 L325.16 135.38 L323.35 135.11 L321.57 134.83 L319.86 134.53 L318.25 134.21 L316.75 133.87 L315.4 133.52 L314.21 133.22 L313.16 132.91 L312.23 132.59 L311.4 132.25 L310.63 131.89 L309.91 131.49 L309.2 131.05 L308.48 130.56 L307.73 130.01 L306.92 129.4 L306.07 128.73 L305.2 127.99 L304.33 127.2 L303.45 126.36 L302.58 125.48 L301.72 124.56 L300.87 123.61 L300.04 122.64 L299.23 121.65 L298.45 120.65 L297.7 119.61 L296.97 118.53 L296.26 117.41 L295.56 116.26 L294.88 115.09 L294.22 113.91 L293.57 112.73 L292.93 111.55 L292.29 110.39 L291.67 109.25 L291.05 108.09 L290.45 106.89 L289.86 105.65 L289.27 104.41 L288.7 103.18 L288.14 102.01 L287.6 100.9 L287.06 99.88 L286.53 98.97 L286.02 98.21 L285.53 97.57 L285.06 97.01 L284.62 96.54 L284.18 96.15 L283.76 95.84 L283.34 95.62 L282.9 95.48 L282.46 95.42 L281.99 95.44 L281.5 95.54 L280.99 95.66 L280.49 95.86 L279.98 96.14 L279.46 96.5 L278.92 96.94 L278.37 97.46 L277.79 98.07 L277.18 98.76 L276.53 99.53 L275.85 100.39 L275.12 101.36 L274.34 102.47 L273.52 103.68 L272.66 104.98 L271.79 106.36 L270.9 107.78 L270.01 109.23 L269.12 110.7 L268.24 112.15 L267.38 113.58 L266.49 115.06 L265.54 116.68 L264.57 118.38 L263.58 120.12 L262.61 121.84 L261.68 123.49 L260.82 125.03 L260.05 126.4 L259.4 127.56 L258.9 128.45 Z" fill="#f2a0f2" fill-opacity="0.45"/>
<path d="M258.9 112.42 L259.24 111.46 L259.67 110.21 L260.18 108.73 L260.75 107.07 L261.37 105.29 L262.02 103.45 L262.68 101.58 L263.33 99.76 L263.96 98.02 L264.55 96.44 L265.11 94.94 L265.68 93.43 L266.24 91.93 L266.81 90.44 L267.37 88.98 L267.94 87.56 L268.5 86.2 L269.07 84.91 L269.63 83.7 L270.2 82.57 L270.78 81.54 L271.37 80.56 L271.97 79.65 L272.57 78.8 L273.17 78.01 L273.75 77.29 L274.32 76.63 L274.86 76.04 L275.38 75.51 L275.85 75.04 L276.27 74.64 L276.65 74.31 L276.98 74.05 L277.29 73.85 L277.58 73.72 L277.87 73.65 L278.17 73.63 L278.49 73.67 L278.84 73.83 L279.24 74.13 L279.68 74.5 L280.16 74.93 L280.66 75.41 L281.18 75.96 L281.71 76.57 L282.25 77.25 L282.79 78 L283.32 78.82 L283.83 79.71 L284.32 80.68 L284.8 81.76 L285.26 82.98 L285.7 84.29 L286.15 85.69 L286.58 87.14 L287.02 88.62 L287.47 90.1 L287.91 91.55 L288.37 92.96 L288.84 94.29 L289.31 95.53 L289.74 96.72 L290.17 97.87 L290.59 99 L291.03 100.13 L291.5 101.26 L292.01 102.43 L292.58 103.66 L293.21 104.91 L293.93 106.23 L294.74 107.67 L295.62 109.22 L296.57 110.85 L297.58 112.53 L298.63 114.23 L299.71 115.92 L300.81 117.57 L301.91 119.13 L303.01 120.59 L304.1 121.91 L305.16 123.11 L306.2 124.22 L307.23 125.25 L308.27 126.22 L309.33 127.13 L310.42 127.98 L311.56 128.79 L312.76 129.55 L314.04 130.28 L315.4 130.98 L316.87 131.49 L318.43 131.93 L320.07 132.31 L321.77 132.63 L323.52 132.91 L325.3 133.16 L327.09 133.39 L328.87 133.6 L330.63 133.81 L332.35 134.02 L334.02 134.22 L335.65 134.38 L337.26 134.52 L338.86 134.64 L340.47 134.74 L342.11 134.84 L343.8 134.95 L345.55 135.06 L347.38 135.2 L349.3 135.37 L351.43 135.58 L353.82 135.82 L356.38 136.08 L359.02 136.36 L361.66 136.64 L364.22 136.91 L366.6 137.17 L368.74 137.4 L370.53 137.59 L371.9 137.74 L371.9 141.11 L370.53 141.05 L368.74 140.96 L366.6 140.86 L364.22 140.75 L361.66 140.63 L359.02 140.5 L356.38 140.39 L353.82 140.27 L351.43 140.18 L349.3 140.1 L347.38 140.05 L345.55 140.02 L343.8 140 L342.11 140 L340.47 139.99 L338.86 139.99 L337.26 139.97 L335.65 139.93 L334.02 139.86 L332.35 139.76 L330.63 139.65 L328.87 139.55 L327.09 139.44 L325.3 139.32 L323.52 139.18 L321.77 139 L320.07 138.78 L318.43 138.5 L316.87 138.16 L315.4 137.74 L314.04 137.39 L312.76 136.99 L311.56 136.54 L310.42 136.04 L309.33 135.47 L308.27 134.84 L307.23 134.14 L306.2 133.38 L305.16 132.53 L304.1 131.62 L303.01 130.58 L301.91 129.41 L300.81 128.13 L299.71 126.78 L298.63 125.37 L297.58 123.94 L296.57 122.52 L295.62 121.14 L294.74 119.82 L293.93 118.6 L293.21 117.47 L292.58 116.41 L292.01 115.42 L291.5 114.47 L291.03 113.52 L290.59 112.58 L290.17 111.63 L289.74 110.66 L289.31 109.65 L288.84 108.6 L288.37 107.47 L287.91 106.26 L287.47 104.99 L287.02 103.7 L286.58 102.4 L286.15 101.13 L285.7 99.92 L285.26 98.79 L284.8 97.77 L284.32 96.89 L283.83 96.12 L283.32 95.45 L282.79 94.85 L282.25 94.33 L281.71 93.87 L281.18 93.48 L280.66 93.15 L280.16 92.88 L279.68 92.65 L279.24 92.46 L278.84 92.32 L278.49 92.15 L278.17 91.98 L277.87 91.87 L277.58 91.82 L277.29 91.83 L276.98 91.9 L276.65 92.01 L276.27 92.18 L275.85 92.4 L275.38 92.67 L274.86 92.98 L274.32 93.34 L273.75 93.76 L273.17 94.23 L272.57 94.76 L271.97 95.35 L271.37 96.01 L270.78 96.73 L270.2 97.53 L269.63 98.4 L269.07 99.38 L268.5 100.43 L267.94 101.55 L267.37 102.73 L266.81 103.94 L266.24 105.19 L265.68 106.45 L265.11 107.72 L264.55 108.98 L263.96 110.31 L263.33 111.77 L262.68 113.32 L262.02 114.9 L261.37 116.48 L260.75 117.99 L260.18 119.41 L259.67 120.67 L259.24 121.73 L258.9 122.54 Z" fill="#a8c0f4" fill-opacity="0.5"/>
<path d="M258.9 114.53 L259.24 113.64 L259.67 112.5 L260.18 111.14 L260.75 109.62 L261.37 107.99 L262.02 106.29 L262.68 104.58 L263.33 102.91 L263.96 101.32 L264.55 99.88 L265.11 98.51 L265.68 97.15 L266.24 95.8 L266.81 94.47 L267.37 93.16 L267.94 91.89 L268.5 90.66 L269.07 89.49 L269.63 88.38 L270.2 87.34 L270.78 86.36 L271.37 85.42 L271.97 84.53 L272.57 83.68 L273.17 82.9 L273.75 82.16 L274.32 81.49 L274.86 80.88 L275.38 80.34 L275.85 79.86 L276.27 79.46 L276.65 79.13 L276.98 78.86 L277.29 78.65 L277.58 78.51 L277.87 78.42 L278.17 78.38 L278.49 78.4 L278.84 78.51 L279.24 78.73 L279.68 78.99 L280.16 79.29 L280.66 79.65 L281.18 80.05 L281.71 80.52 L282.25 81.06 L282.79 81.67 L283.32 82.36 L283.83 83.14 L284.32 84.02 L284.8 85.03 L285.26 86.19 L285.7 87.47 L286.15 88.84 L286.58 90.27 L287.02 91.73 L287.47 93.19 L287.91 94.62 L288.37 95.98 L288.84 97.26 L289.31 98.45 L289.74 99.59 L290.17 100.68 L290.59 101.75 L291.03 102.82 L291.5 103.88 L292.01 104.96 L292.58 106.08 L293.21 107.24 L293.93 108.46 L294.75 109.78 L295.67 111.2 L296.66 112.68 L297.71 114.2 L298.8 115.71 L299.91 117.16 L301.01 118.55 L302.09 119.87 L303.13 121.06 L304.1 122.12 L304.99 123.05 L305.81 123.88 L306.59 124.63 L307.34 125.3 L308.09 125.9 L308.86 126.45 L309.67 126.95 L310.55 127.4 L311.51 127.83 L312.57 128.24 L313.72 128.58 L314.9 128.83 L316.13 128.96 L317.41 129.02 L318.75 129.05 L320.17 129.08 L321.66 129.13 L323.24 129.22 L324.92 129.38 L326.7 129.63 L328.67 129.99 L330.86 130.42 L333.21 130.91 L335.67 131.45 L338.18 132.01 L340.67 132.57 L343.08 133.13 L345.37 133.65 L347.46 134.12 L349.3 134.53 L350.9 134.87 L352.33 135.18 L353.61 135.45 L354.77 135.69 L355.83 135.91 L356.83 136.12 L357.77 136.33 L358.7 136.53 L359.64 136.75 L360.6 136.98 L361.6 137.23 L362.61 137.49 L363.62 137.77 L364.6 138.04 L365.54 138.31 L366.43 138.57 L367.24 138.81 L367.97 139.02 L368.58 139.2 L369.07 139.34 L369.07 142.04 L368.58 141.93 L367.97 141.79 L367.24 141.62 L366.43 141.43 L365.54 141.22 L364.6 141.01 L363.62 140.79 L362.61 140.58 L361.6 140.37 L360.6 140.18 L359.64 140.01 L358.7 139.85 L357.77 139.7 L356.83 139.55 L355.83 139.4 L354.77 139.24 L353.61 139.07 L352.33 138.88 L350.9 138.66 L349.3 138.41 L347.46 138.11 L345.37 137.77 L343.08 137.38 L340.67 136.97 L338.18 136.55 L335.67 136.14 L333.21 135.76 L330.86 135.4 L328.67 135.1 L326.7 134.87 L324.92 134.72 L323.24 134.66 L321.66 134.66 L320.17 134.7 L318.75 134.76 L317.41 134.81 L316.13 134.83 L314.9 134.81 L313.72 134.74 L312.57 134.57 L311.51 134.32 L310.55 134.04 L309.67 133.71 L308.86 133.33 L308.09 132.9 L307.34 132.41 L306.59 131.85 L305.81 131.22 L304.99 130.51 L304.1 129.72 L303.13 128.81 L302.09 127.76 L301.01 126.61 L299.91 125.38 L298.8 124.1 L297.71 122.83 L296.66 121.58 L295.67 120.35 L294.75 119.17 L293.93 118.06 L293.21 117.02 L292.58 116.02 L292.01 115.05 L291.5 114.1 L291.03 113.15 L290.59 112.21 L290.17 111.24 L289.74 110.26 L289.31 109.23 L288.84 108.16 L288.37 107 L287.91 105.75 L287.47 104.44 L287.02 103.1 L286.58 101.75 L286.15 100.43 L285.7 99.18 L285.26 98.01 L284.8 96.97 L284.32 96.08 L283.83 95.33 L283.32 94.68 L282.79 94.12 L282.25 93.65 L281.71 93.25 L281.18 92.92 L280.66 92.64 L280.16 92.42 L279.68 92.24 L279.24 92.09 L278.84 91.97 L278.49 91.86 L278.17 91.76 L277.87 91.72 L277.58 91.73 L277.29 91.8 L276.98 91.93 L276.65 92.11 L276.27 92.35 L275.85 92.64 L275.38 92.99 L274.86 93.41 L274.32 93.88 L273.75 94.41 L273.17 94.99 L272.57 95.63 L271.97 96.31 L271.37 97.05 L270.78 97.84 L270.2 98.67 L269.63 99.57 L269.07 100.53 L268.5 101.56 L267.94 102.64 L267.37 103.77 L266.81 104.93 L266.24 106.12 L265.68 107.33 L265.11 108.55 L264.55 109.76 L263.96 111.06 L263.33 112.48 L262.68 113.98 L262.02 115.53 L261.37 117.06 L260.75 118.53 L260.18 119.91 L259.67 121.14 L259.24 122.17 L258.9 122.97 Z" fill="#8888cc" fill-opacity="0.5"/>
<path d="M258.9 118.32 L259.4 117.81 L260.05 117.14 L260.82 116.33 L261.68 115.43 L262.61 114.47 L263.58 113.48 L264.57 112.5 L265.54 111.54 L266.49 110.66 L267.38 109.88 L268.23 109.17 L269.1 108.47 L269.97 107.78 L270.85 107.12 L271.72 106.48 L272.58 105.88 L273.43 105.33 L274.26 104.82 L275.07 104.37 L275.85 103.98 L276.59 103.64 L277.31 103.35 L277.99 103.11 L278.66 102.91 L279.31 102.76 L279.96 102.66 L280.61 102.6 L281.26 102.59 L281.94 102.63 L282.63 102.71 L283.34 102.84 L284.04 103.03 L284.76 103.26 L285.47 103.54 L286.2 103.87 L286.93 104.24 L287.67 104.65 L288.42 105.09 L289.19 105.57 L289.97 106.09 L290.76 106.64 L291.55 107.24 L292.35 107.89 L293.15 108.58 L293.97 109.3 L294.8 110.06 L295.66 110.83 L296.56 111.63 L297.48 112.44 L298.45 113.26 L299.47 114.12 L300.53 115.06 L301.63 116.04 L302.77 117.04 L303.92 118.06 L305.09 119.06 L306.27 120.03 L307.44 120.95 L308.61 121.79 L309.75 122.54 L310.88 123.2 L312.01 123.8 L313.14 124.33 L314.27 124.82 L315.4 125.26 L316.53 125.67 L317.66 126.06 L318.79 126.44 L319.92 126.81 L321.05 127.19 L322.15 127.54 L323.22 127.86 L324.26 128.16 L325.3 128.43 L326.35 128.69 L327.42 128.95 L328.54 129.21 L329.73 129.5 L330.99 129.8 L332.35 130.14 L333.84 130.53 L335.47 130.96 L337.2 131.42 L338.99 131.9 L340.82 132.38 L342.66 132.85 L344.45 133.3 L346.18 133.71 L347.81 134.07 L349.3 134.36 L350.66 134.58 L351.92 134.73 L353.11 134.83 L354.23 134.9 L355.3 134.94 L356.35 134.97 L357.39 135 L358.43 135.04 L359.5 135.1 L360.6 135.2 L361.78 135.35 L363.04 135.51 L364.35 135.7 L365.66 135.9 L366.96 136.1 L368.19 136.3 L369.34 136.48 L370.36 136.65 L371.23 136.79 L371.9 136.89" fill="none" stroke="#e8392a" stroke-width="1.25"/>
<path d="M258.9 125.08 L259.4 124.16 L260.05 122.98 L260.82 121.58 L261.68 120.01 L262.61 118.32 L263.58 116.57 L264.57 114.8 L265.54 113.06 L266.49 111.4 L267.38 109.88 L268.24 108.43 L269.12 106.94 L270.01 105.44 L270.9 103.96 L271.79 102.5 L272.66 101.09 L273.52 99.76 L274.34 98.51 L275.12 97.38 L275.85 96.38 L276.53 95.5 L277.18 94.7 L277.79 93.99 L278.37 93.36 L278.92 92.82 L279.46 92.36 L279.98 91.98 L280.49 91.68 L280.99 91.46 L281.5 91.32 L281.99 91.25 L282.46 91.26 L282.9 91.35 L283.34 91.52 L283.76 91.76 L284.18 92.1 L284.62 92.51 L285.06 93.01 L285.53 93.6 L286.02 94.27 L286.53 95.07 L287.06 96 L287.6 97.05 L288.14 98.2 L288.7 99.41 L289.27 100.67 L289.86 101.95 L290.45 103.22 L291.05 104.47 L291.67 105.66 L292.29 106.84 L292.93 108.04 L293.57 109.26 L294.22 110.48 L294.88 111.7 L295.56 112.92 L296.26 114.11 L296.97 115.27 L297.7 116.4 L298.45 117.48 L299.23 118.53 L300.04 119.57 L300.87 120.6 L301.72 121.6 L302.58 122.57 L303.45 123.51 L304.33 124.4 L305.2 125.24 L306.07 126.03 L306.92 126.76 L307.73 127.42 L308.48 128.02 L309.2 128.55 L309.91 129.04 L310.63 129.48 L311.4 129.89 L312.23 130.28 L313.16 130.66 L314.21 131.03 L315.4 131.41 L316.75 131.78 L318.25 132.14 L319.86 132.48 L321.57 132.81 L323.35 133.12 L325.16 133.41 L327 133.68 L328.82 133.93 L330.62 134.16 L332.35 134.36 L334.07 134.53 L335.83 134.67 L337.61 134.78 L339.4 134.87 L341.18 134.94 L342.93 135 L344.63 135.05 L346.27 135.1 L347.83 135.15 L349.3 135.2 L350.66 135.25 L351.92 135.27 L353.11 135.28 L354.23 135.28 L355.3 135.28 L356.35 135.3 L357.39 135.33 L358.43 135.39 L359.5 135.48 L360.6 135.63 L361.78 135.83 L363.04 136.1 L364.35 136.42 L365.66 136.77 L366.96 137.13 L368.19 137.49 L369.34 137.83 L370.36 138.14 L371.23 138.39 L371.9 138.58" fill="none" stroke="#e41fe6" stroke-width="1.25"/>
<path d="M258.9 117.48 L259.24 116.59 L259.67 115.44 L260.18 114.07 L260.75 112.53 L261.37 110.89 L262.02 109.18 L262.68 107.45 L263.33 105.77 L263.96 104.17 L264.55 102.71 L265.11 101.33 L265.68 99.94 L266.24 98.56 L266.81 97.19 L267.37 95.85 L267.94 94.56 L268.5 93.32 L269.07 92.14 L269.63 91.05 L270.2 90.05 L270.78 89.13 L271.37 88.28 L271.97 87.5 L272.57 86.78 L273.17 86.12 L273.75 85.52 L274.32 84.99 L274.86 84.51 L275.38 84.09 L275.85 83.72 L276.27 83.41 L276.65 83.16 L276.98 82.97 L277.29 82.84 L277.58 82.77 L277.87 82.76 L278.17 82.8 L278.49 82.91 L278.84 83.07 L279.24 83.3 L279.68 83.58 L280.16 83.9 L280.66 84.28 L281.18 84.72 L281.71 85.22 L282.25 85.79 L282.79 86.42 L283.32 87.13 L283.83 87.92 L284.32 88.78 L284.8 89.77 L285.26 90.88 L285.7 92.11 L286.15 93.41 L286.58 94.77 L287.02 96.16 L287.47 97.54 L287.91 98.91 L288.37 100.21 L288.84 101.44 L289.31 102.59 L289.74 103.69 L290.17 104.75 L290.59 105.79 L291.03 106.82 L291.5 107.87 L292.01 108.93 L292.58 110.03 L293.21 111.19 L293.93 112.42 L294.74 113.74 L295.62 115.18 L296.57 116.68 L297.58 118.24 L298.63 119.8 L299.71 121.35 L300.81 122.85 L301.91 124.27 L303.01 125.59 L304.1 126.76 L305.16 127.82 L306.2 128.8 L307.23 129.7 L308.27 130.53 L309.33 131.3 L310.42 132.01 L311.56 132.67 L312.76 133.27 L314.04 133.84 L315.4 134.36 L316.87 134.83 L318.43 135.22 L320.07 135.54 L321.77 135.82 L323.52 136.05 L325.3 136.24 L327.09 136.42 L328.87 136.57 L330.63 136.73 L332.35 136.89 L334.02 137.04 L335.65 137.16 L337.26 137.24 L338.86 137.31 L340.47 137.37 L342.11 137.42 L343.8 137.47 L345.55 137.54 L347.38 137.63 L349.3 137.74 L351.43 137.88 L353.82 138.05 L356.38 138.23 L359.02 138.43 L361.66 138.63 L364.22 138.83 L366.6 139.02 L368.74 139.18 L370.53 139.32 L371.9 139.42" fill="none" stroke="#4a86f0" stroke-width="1.25"/>
<path d="M258.9 118.75 L259.24 117.91 L259.67 116.82 L260.18 115.53 L260.75 114.08 L261.37 112.52 L262.02 110.91 L262.68 109.28 L263.33 107.69 L263.96 106.19 L264.55 104.82 L265.11 103.53 L265.68 102.24 L266.24 100.96 L266.81 99.7 L267.37 98.46 L267.94 97.26 L268.5 96.11 L269.07 95.01 L269.63 93.97 L270.2 93 L270.78 92.1 L271.37 91.23 L271.97 90.42 L272.57 89.66 L273.17 88.94 L273.75 88.28 L274.32 87.68 L274.86 87.14 L275.38 86.67 L275.85 86.25 L276.27 85.9 L276.65 85.62 L276.98 85.39 L277.29 85.23 L277.58 85.12 L277.87 85.07 L278.17 85.07 L278.49 85.13 L278.84 85.24 L279.24 85.41 L279.68 85.61 L280.16 85.86 L280.66 86.14 L281.18 86.48 L281.71 86.89 L282.25 87.35 L282.79 87.9 L283.32 88.52 L283.83 89.24 L284.32 90.05 L284.8 91 L285.26 92.1 L285.7 93.33 L286.15 94.64 L286.58 96.01 L287.02 97.41 L287.47 98.81 L287.91 100.18 L288.37 101.49 L288.84 102.71 L289.31 103.84 L289.74 104.92 L290.17 105.96 L290.59 106.98 L291.03 107.99 L291.5 108.99 L292.01 110.01 L292.58 111.05 L293.21 112.13 L293.93 113.26 L294.75 114.47 L295.67 115.77 L296.66 117.13 L297.71 118.52 L298.8 119.91 L299.91 121.27 L301.01 122.58 L302.09 123.81 L303.13 124.94 L304.1 125.92 L304.99 126.78 L305.81 127.55 L306.59 128.24 L307.34 128.85 L308.09 129.4 L308.86 129.89 L309.67 130.33 L310.55 130.72 L311.51 131.08 L312.57 131.41 L313.72 131.66 L314.9 131.82 L316.13 131.89 L317.41 131.92 L318.75 131.91 L320.17 131.89 L321.66 131.89 L323.24 131.94 L324.92 132.05 L326.7 132.25 L328.67 132.54 L330.86 132.91 L333.21 133.33 L335.67 133.8 L338.18 134.28 L340.67 134.77 L343.08 135.25 L345.37 135.71 L347.46 136.12 L349.3 136.47 L350.9 136.77 L352.33 137.03 L353.61 137.26 L354.77 137.47 L355.83 137.66 L356.83 137.84 L357.77 138.01 L358.7 138.19 L359.64 138.38 L360.6 138.58 L361.6 138.8 L362.61 139.04 L363.62 139.28 L364.6 139.53 L365.54 139.77 L366.43 140 L367.24 140.21 L367.97 140.4 L368.58 140.56 L369.07 140.69" fill="none" stroke="#101088" stroke-width="1.25"/>
<rect x="379.7" y="76" width="15.33" height="12.98" fill="#111"/>
<rect x="394.97" y="76" width="15.33" height="12.98" fill="#050505"/>
<rect x="410.25" y="76" width="15.33" height="12.98" fill="#e87a5c"/>
<rect x="425.52" y="76" width="15.33" height="12.98" fill="#c0506e"/>
<rect x="379.7" y="88.92" width="15.33" height="12.98" fill="#050505"/>
<rect x="394.97" y="88.92" width="15.33" height="12.98" fill="#111"/>
<rect x="410.25" y="88.92" width="15.33" height="12.98" fill="#e87a5c"/>
<rect x="425.52" y="88.92" width="15.33" height="12.98" fill="#c0506e"/>
<rect x="379.7" y="101.85" width="15.33" height="12.98" fill="#e87a5c"/>
<rect x="394.97" y="101.85" width="15.33" height="12.98" fill="#e87a5c"/>
<rect x="410.25" y="101.85" width="15.33" height="12.98" fill="#111"/>
<rect x="425.52" y="101.85" width="15.33" height="12.98" fill="#050505"/>
<rect x="379.7" y="114.78" width="15.33" height="12.98" fill="#c0506e"/>
<rect x="394.97" y="114.78" width="15.33" height="12.98" fill="#c0506e"/>
<rect x="410.25" y="114.78" width="15.33" height="12.98" fill="#050505"/>
<rect x="425.52" y="114.78" width="15.33" height="12.98" fill="#111"/>
<g stroke="#777" stroke-width="0.35" stroke-opacity="0.6">
<line x1="379.7" y1="76" x2="379.7" y2="127.7"/>
<line x1="379.7" y1="76" x2="440.8" y2="76"/>
<line x1="394.97" y1="76" x2="394.97" y2="127.7"/>
<line x1="379.7" y1="88.92" x2="440.8" y2="88.92"/>
<line x1="410.25" y1="76" x2="410.25" y2="127.7"/>
<line x1="379.7" y1="101.85" x2="440.8" y2="101.85"/>
<line x1="425.52" y1="76" x2="425.52" y2="127.7"/>
<line x1="379.7" y1="114.78" x2="440.8" y2="114.78"/>
<line x1="440.8" y1="76" x2="440.8" y2="127.7"/>
<line x1="379.7" y1="127.7" x2="440.8" y2="127.7"/>
</g>
<text x="386.14" y="72.9" font-size="8" text-anchor="middle" fill="#111" font-weight="normal" >1</text>
<text x="401.41" y="72.9" font-size="8" text-anchor="middle" fill="#111" font-weight="normal" >2</text>
<text x="416.69" y="72.9" font-size="8" text-anchor="middle" fill="#111" font-weight="normal" >3</text>
<text x="431.96" y="72.9" font-size="8" text-anchor="middle" fill="#111" font-weight="normal" >4</text>
<path d="M376 98.3 C367.5 99.8 367.5 108 375.1 109" fill="none" stroke="#ee1c1c" stroke-width="1.35"/>
<path d="M377.3 109 L374.1 107.1 L374.7 110.9 Z" fill="#ee1c1c"/>
<g stroke="#333" stroke-width="0.9" fill="none">
<line x1="463.4" y1="49.5" x2="463.4" y2="146.6"/>
<line x1="460.6" y1="143.3" x2="586.5" y2="143.3"/>
<line x1="460.6" y1="142.7" x2="463.4" y2="142.7"/>
<line x1="460.6" y1="100.2" x2="463.4" y2="100.2"/>
<line x1="460.6" y1="57.7" x2="463.4" y2="57.7"/>
<line x1="468.9" y1="143.3" x2="468.9" y2="146.2"/>
<line x1="496.9" y1="143.3" x2="496.9" y2="146.2"/>
<line x1="524.9" y1="143.3" x2="524.9" y2="146.2"/>
<line x1="552.9" y1="143.3" x2="552.9" y2="146.2"/>
<line x1="580.9" y1="143.3" x2="580.9" y2="146.2"/>
</g>
<text x="460.8" y="145.1" font-size="6.8" text-anchor="end" fill="#3a3a3a" font-weight="normal" >0.0</text>
<text x="460.8" y="102.6" font-size="6.8" text-anchor="end" fill="#3a3a3a" font-weight="normal" >1.0</text>
<text x="460.8" y="60.1" font-size="6.8" text-anchor="end" fill="#3a3a3a" font-weight="normal" >2.0</text>
<text x="470.9" y="151.9" font-size="6.8" text-anchor="middle" fill="#3a3a3a" font-weight="normal" >0.0</text>
<text x="526.9" y="151.9" font-size="6.8" text-anchor="middle" fill="#3a3a3a" font-weight="normal" >1.0</text>
<text x="582.9" y="151.9" font-size="6.8" text-anchor="middle" fill="#3a3a3a" font-weight="normal" >2.0</text>
<path d="M468.9 116.35 L469.4 115.6 L470.06 114.6 L470.84 113.41 L471.71 112.07 L472.64 110.66 L473.62 109.2 L474.6 107.76 L475.56 106.4 L476.47 105.15 L477.3 104.08 L478.08 103.14 L478.85 102.26 L479.62 101.44 L480.37 100.67 L481.11 99.94 L481.84 99.27 L482.55 98.64 L483.25 98.06 L483.93 97.52 L484.58 97.01 L485.2 96.55 L485.79 96.13 L486.35 95.76 L486.89 95.43 L487.41 95.15 L487.94 94.91 L488.47 94.71 L489.02 94.55 L489.58 94.43 L490.18 94.36 L490.8 94.31 L491.42 94.29 L492.04 94.39 L492.68 94.53 L493.33 94.72 L494 94.97 L494.68 95.29 L495.39 95.68 L496.13 96.16 L496.9 96.73 L497.7 97.43 L498.52 98.25 L499.37 99.19 L500.24 100.2 L501.13 101.27 L502.05 102.38 L502.98 103.49 L503.92 104.59 L504.89 105.65 L505.86 106.65 L506.87 107.62 L507.92 108.61 L509 109.62 L510.1 110.62 L511.22 111.61 L512.32 112.56 L513.42 113.48 L514.49 114.33 L515.52 115.12 L516.5 115.82 L517.43 116.43 L518.32 116.95 L519.18 117.4 L520.02 117.79 L520.84 118.14 L521.65 118.46 L522.45 118.77 L523.26 119.07 L524.07 119.4 L524.9 119.75 L525.74 120.07 L526.58 120.39 L527.42 120.71 L528.26 121.03 L529.1 121.34 L529.94 121.65 L530.78 121.94 L531.62 122.22 L532.46 122.48 L533.3 122.72 L534.13 122.95 L534.94 123.17 L535.73 123.37 L536.53 123.56 L537.32 123.73 L538.14 123.9 L538.97 124.05 L539.84 124.19 L540.75 124.31 L541.7 124.42 L542.72 124.51 L543.81 124.56 L544.94 124.59 L546.11 124.61 L547.3 124.61 L548.49 124.62 L549.66 124.64 L550.79 124.68 L551.88 124.74 L552.9 124.85 L553.84 125.06 L554.71 125.28 L555.54 125.5 L556.33 125.73 L557.1 125.98 L557.87 126.25 L558.66 126.56 L559.49 126.9 L560.36 127.3 L561.3 127.74 L562.36 128.28 L563.54 128.92 L564.81 129.64 L566.12 130.41 L567.42 131.19 L568.69 131.96 L569.88 132.69 L570.93 133.34 L571.82 133.88 L572.5 134.28 L572.5 140.91 L571.82 140.63 L570.93 140.25 L569.88 139.8 L568.69 139.29 L567.42 138.75 L566.12 138.2 L564.81 137.67 L563.54 137.18 L562.36 136.75 L561.3 136.41 L560.36 136.14 L559.49 135.91 L558.66 135.71 L557.87 135.55 L557.1 135.41 L556.33 135.3 L555.54 135.22 L554.71 135.15 L553.84 135.09 L552.9 135.05 L551.88 134.94 L550.79 134.88 L549.66 134.84 L548.49 134.82 L547.3 134.81 L546.11 134.81 L544.94 134.79 L543.81 134.76 L542.72 134.71 L541.7 134.62 L540.75 134.51 L539.84 134.39 L538.97 134.25 L538.14 134.1 L537.32 133.93 L536.53 133.76 L535.73 133.57 L534.94 133.37 L534.13 133.15 L533.3 132.92 L532.46 132.68 L531.62 132.42 L530.78 132.14 L529.94 131.85 L529.1 131.54 L528.26 131.23 L527.42 130.91 L526.58 130.59 L525.74 130.27 L524.9 129.95 L524.07 129.7 L523.26 129.48 L522.45 129.28 L521.65 129.07 L520.84 128.85 L520.02 128.61 L519.18 128.32 L518.32 127.98 L517.43 127.57 L516.5 127.08 L515.52 126.5 L514.49 125.85 L513.42 125.13 L512.32 124.35 L511.22 123.54 L510.1 122.69 L509 121.83 L507.92 120.96 L506.87 120.1 L505.86 119.25 L504.89 118.38 L503.92 117.45 L502.98 116.47 L502.05 115.47 L501.13 114.48 L500.24 113.52 L499.37 112.62 L498.52 111.79 L497.7 111.07 L496.9 110.47 L496.13 110 L495.39 109.61 L494.68 109.31 L494 109.08 L493.33 108.92 L492.68 108.81 L492.04 108.75 L491.42 108.73 L490.8 108.66 L490.18 108.59 L489.58 108.56 L489.02 108.57 L488.47 108.62 L487.94 108.72 L487.41 108.86 L486.89 109.05 L486.35 109.27 L485.79 109.54 L485.2 109.84 L484.58 110.19 L483.93 110.57 L483.25 110.98 L482.55 111.43 L481.84 111.93 L481.11 112.46 L480.37 113.04 L479.62 113.67 L478.85 114.35 L478.08 115.08 L477.3 115.87 L476.47 116.79 L475.56 117.86 L474.6 119.04 L473.62 120.3 L472.64 121.57 L471.71 122.81 L470.84 123.97 L470.06 125.02 L469.4 125.89 L468.9 126.55 Z" fill="#f08a8a" fill-opacity="0.45"/>
<path d="M468.9 111.67 L469.4 110.67 L470.04 109.34 L470.8 107.75 L471.66 105.98 L472.57 104.09 L473.54 102.15 L474.52 100.24 L475.49 98.41 L476.42 96.75 L477.3 95.31 L478.16 94.03 L479.04 92.79 L479.94 91.6 L480.85 90.47 L481.74 89.42 L482.62 88.46 L483.47 87.6 L484.27 86.85 L485.02 86.23 L485.7 85.75 L486.3 85.49 L486.81 85.35 L487.26 85.32 L487.67 85.39 L488.04 85.56 L488.41 85.82 L488.79 86.18 L489.2 86.63 L489.66 87.17 L490.18 87.79 L490.75 88.51 L491.35 89.36 L491.98 90.31 L492.63 91.36 L493.3 92.49 L493.98 93.69 L494.69 94.95 L495.41 96.25 L496.15 97.58 L496.9 98.92 L497.66 100.35 L498.43 101.88 L499.21 103.51 L500 105.19 L500.82 106.9 L501.66 108.61 L502.52 110.29 L503.41 111.91 L504.34 113.45 L505.3 114.86 L506.29 116.21 L507.32 117.53 L508.37 118.82 L509.44 120.07 L510.55 121.26 L511.68 122.38 L512.85 123.42 L514.04 124.37 L515.25 125.2 L516.5 125.91 L517.77 126.47 L519.08 126.87 L520.41 127.14 L521.76 127.3 L523.15 127.4 L524.56 127.45 L526.01 127.43 L527.48 127.41 L528.97 127.43 L530.5 127.53 L532.09 127.67 L533.77 127.82 L535.51 127.97 L537.29 128.12 L539.08 128.28 L540.85 128.45 L542.58 128.62 L544.25 128.8 L545.83 128.99 L547.3 129.19 L548.65 129.39 L549.9 129.59 L551.07 129.81 L552.18 130.02 L553.25 130.25 L554.29 130.49 L555.32 130.73 L556.35 131 L557.41 131.27 L558.5 131.56 L559.62 131.88 L560.74 132.23 L561.86 132.59 L562.98 132.98 L564.1 133.37 L565.22 133.76 L566.34 134.15 L567.46 134.52 L568.58 134.88 L569.7 135.22 L570.87 135.55 L572.12 135.88 L573.41 136.21 L574.72 136.54 L576 136.85 L577.23 137.15 L578.36 137.42 L579.38 137.66 L580.23 137.86 L580.9 138.02 L580.9 140.57 L580.23 140.44 L579.38 140.28 L578.36 140.08 L577.23 139.86 L576 139.62 L574.72 139.37 L573.41 139.1 L572.12 138.83 L570.87 138.55 L569.7 138.28 L568.58 137.99 L567.46 137.68 L566.34 137.36 L565.22 137.02 L564.1 136.68 L562.98 136.34 L561.86 136.01 L560.74 135.7 L559.62 135.4 L558.5 135.13 L557.41 134.89 L556.35 134.66 L555.32 134.45 L554.29 134.25 L553.25 134.06 L552.18 133.88 L551.07 133.71 L549.9 133.56 L548.65 133.41 L547.3 133.26 L545.83 133.13 L544.25 133.02 L542.58 132.91 L540.85 132.82 L539.08 132.74 L537.29 132.66 L535.51 132.58 L533.77 132.51 L532.09 132.44 L530.5 132.37 L528.97 132.35 L527.48 132.39 L526.01 132.48 L524.56 132.6 L523.15 132.77 L521.76 132.88 L520.41 132.92 L519.08 132.85 L517.77 132.65 L516.5 132.29 L515.25 131.76 L514.04 131.11 L512.85 130.35 L511.68 129.49 L510.55 128.54 L509.44 127.52 L508.37 126.43 L507.32 125.3 L506.29 124.13 L505.3 122.94 L504.34 121.67 L503.41 120.27 L502.52 118.79 L501.66 117.24 L500.82 115.65 L500 114.07 L499.21 112.51 L498.43 111 L497.66 109.58 L496.9 108.27 L496.15 107.04 L495.41 105.82 L494.69 104.63 L493.98 103.48 L493.3 102.39 L492.63 101.36 L491.98 100.41 L491.35 99.55 L490.75 98.8 L490.18 98.16 L489.66 97.62 L489.2 97.15 L488.79 96.76 L488.41 96.46 L488.04 96.25 L487.67 96.14 L487.26 96.13 L486.81 96.23 L486.3 96.45 L485.7 96.8 L485.02 97.18 L484.27 97.69 L483.47 98.31 L482.62 99.05 L481.74 99.87 L480.85 100.79 L479.94 101.78 L479.04 102.83 L478.16 103.94 L477.3 105.09 L476.42 106.39 L475.49 107.91 L474.52 109.59 L473.54 111.36 L472.57 113.15 L471.66 114.9 L470.8 116.54 L470.04 118.01 L469.4 119.25 L468.9 120.17 Z" fill="#f2a0f2" fill-opacity="0.45"/>
<path d="M468.9 106.57 L469.34 105.31 L469.9 103.64 L470.57 101.64 L471.31 99.41 L472.12 97.03 L472.96 94.59 L473.81 92.18 L474.64 89.9 L475.44 87.83 L476.18 86.05 L476.88 84.49 L477.6 83.02 L478.31 81.64 L479.02 80.34 L479.72 79.14 L480.4 78.03 L481.07 77.02 L481.71 76.12 L482.32 75.32 L482.9 74.62 L483.43 74.03 L483.9 73.54 L484.34 73.32 L484.75 73.24 L485.14 73.26 L485.53 73.37 L485.94 73.6 L486.38 73.93 L486.85 74.39 L487.38 74.97 L487.95 75.69 L488.55 76.54 L489.18 77.52 L489.83 78.61 L490.49 79.81 L491.18 81.1 L491.89 82.48 L492.61 83.92 L493.35 85.43 L494.1 86.99 L494.86 88.65 L495.63 90.46 L496.41 92.38 L497.2 94.39 L498.02 96.46 L498.86 98.55 L499.72 100.64 L500.61 102.69 L501.54 104.68 L502.5 106.57 L503.51 108.34 L504.56 110.11 L505.65 111.88 L506.78 113.63 L507.92 115.35 L509.09 117 L510.25 118.59 L511.42 120.08 L512.57 121.47 L513.7 122.72 L514.79 123.85 L515.85 124.86 L516.88 125.77 L517.91 126.59 L518.95 127.33 L520.02 128.01 L521.13 128.64 L522.3 129.24 L523.55 129.81 L524.9 130.38 L526.35 130.79 L527.9 131.13 L529.53 131.4 L531.22 131.63 L532.95 131.82 L534.71 131.99 L536.48 132.15 L538.25 132.32 L539.99 132.5 L541.7 132.71 L543.35 132.94 L544.97 133.16 L546.56 133.37 L548.15 133.58 L549.75 133.79 L551.38 134.01 L553.05 134.24 L554.78 134.49 L556.59 134.76 L558.5 135.05 L560.61 135.39 L562.98 135.78 L565.51 136.21 L568.13 136.66 L570.75 137.11 L573.28 137.55 L575.65 137.96 L577.76 138.33 L579.54 138.64 L580.9 138.88 L580.9 142.27 L579.54 142.14 L577.76 141.97 L575.65 141.76 L573.28 141.53 L570.75 141.28 L568.13 141.03 L565.51 140.78 L562.98 140.54 L560.61 140.33 L558.5 140.15 L556.59 140 L554.78 139.87 L553.05 139.75 L551.38 139.65 L549.75 139.55 L548.15 139.46 L546.56 139.37 L544.97 139.28 L543.35 139.19 L541.7 139.09 L539.99 139 L538.25 138.95 L536.48 138.92 L534.71 138.9 L532.95 138.86 L531.22 138.8 L529.53 138.7 L527.9 138.55 L526.35 138.33 L524.9 138.02 L523.55 137.77 L522.3 137.48 L521.13 137.15 L520.02 136.78 L518.95 136.34 L517.91 135.83 L516.88 135.25 L515.85 134.57 L514.79 133.8 L513.7 132.92 L512.57 131.92 L511.42 130.8 L510.25 129.57 L509.09 128.26 L507.92 126.86 L506.78 125.41 L505.65 123.91 L504.56 122.39 L503.51 120.86 L502.5 119.32 L501.54 117.83 L500.61 116.22 L499.72 114.54 L498.86 112.81 L498.02 111.06 L497.2 109.33 L496.41 107.65 L495.63 106.05 L494.86 104.56 L494.1 103.21 L493.35 101.97 L492.61 100.76 L491.89 99.62 L491.18 98.54 L490.49 97.53 L489.83 96.61 L489.18 95.79 L488.55 95.07 L487.95 94.46 L487.38 93.98 L486.85 93.62 L486.38 93.36 L485.94 93.2 L485.53 93.15 L485.14 93.19 L484.75 93.34 L484.34 93.59 L483.9 93.87 L483.43 94.07 L482.9 94.33 L482.32 94.67 L481.71 95.09 L481.07 95.6 L480.4 96.19 L479.72 96.88 L479.02 97.65 L478.31 98.5 L477.6 99.45 L476.88 100.48 L476.18 101.6 L475.44 102.92 L474.64 104.5 L473.81 106.27 L472.96 108.15 L472.12 110.07 L471.31 111.95 L470.57 113.72 L469.9 115.31 L469.34 116.63 L468.9 117.62 Z" fill="#a8c0f4" fill-opacity="0.5"/>
<path d="M468.9 107.85 L469.34 106.63 L469.9 105.01 L470.57 103.08 L471.31 100.93 L472.12 98.63 L472.96 96.27 L473.81 93.94 L474.64 91.71 L475.44 89.69 L476.18 87.94 L476.88 86.38 L477.6 84.89 L478.31 83.47 L479.02 82.13 L479.72 80.87 L480.4 79.72 L481.07 78.66 L481.71 77.73 L482.32 76.91 L482.9 76.23 L483.43 75.68 L483.9 75.25 L484.34 75.06 L484.75 75.01 L485.14 75.07 L485.53 75.23 L485.94 75.48 L486.38 75.84 L486.85 76.3 L487.38 76.86 L487.95 77.53 L488.55 78.32 L489.18 79.21 L489.83 80.21 L490.49 81.3 L491.18 82.49 L491.89 83.76 L492.61 85.1 L493.35 86.51 L494.1 87.99 L494.86 89.58 L495.63 91.32 L496.41 93.18 L497.2 95.13 L498.02 97.14 L498.86 99.17 L499.72 101.21 L500.61 103.21 L501.54 105.15 L502.5 107 L503.51 108.76 L504.56 110.54 L505.65 112.34 L506.78 114.12 L507.92 115.86 L509.09 117.54 L510.25 119.13 L511.42 120.61 L512.57 121.96 L513.7 123.15 L514.79 124.17 L515.85 125.05 L516.88 125.79 L517.91 126.43 L518.95 126.97 L520.02 127.45 L521.13 127.89 L522.3 128.29 L523.55 128.69 L524.9 129.1 L526.37 129.5 L527.95 129.84 L529.62 130.15 L531.35 130.42 L533.12 130.65 L534.91 130.87 L536.69 131.04 L538.43 131.15 L540.11 131.26 L541.7 131.38 L543.23 131.49 L544.72 131.56 L546.19 131.61 L547.64 131.64 L549.05 131.67 L550.44 131.71 L551.79 131.78 L553.12 131.87 L554.43 132.01 L555.7 132.21 L556.93 132.46 L558.12 132.76 L559.27 133.1 L560.38 133.47 L561.48 133.86 L562.55 134.27 L563.63 134.69 L564.7 135.11 L565.79 135.52 L566.9 135.93 L568.07 136.34 L569.32 136.79 L570.61 137.27 L571.92 137.75 L573.2 138.23 L574.43 138.69 L575.56 139.12 L576.58 139.5 L577.43 139.82 L578.1 140.07 L578.1 142.78 L577.43 142.57 L576.58 142.3 L575.56 141.97 L574.43 141.61 L573.2 141.22 L571.92 140.81 L570.61 140.4 L569.32 140 L568.07 139.62 L566.9 139.27 L565.79 138.93 L564.7 138.58 L563.63 138.22 L562.55 137.86 L561.48 137.52 L560.38 137.18 L559.27 136.88 L558.12 136.61 L556.93 136.37 L555.7 136.19 L554.43 136.07 L553.12 136 L551.79 135.98 L550.44 136 L549.05 136.04 L547.64 136.09 L546.19 136.13 L544.72 136.17 L543.23 136.19 L541.7 136.17 L540.11 136.14 L538.43 136.12 L536.69 136.11 L534.91 136.15 L533.12 136.21 L531.35 136.24 L529.62 136.23 L527.95 136.18 L526.37 136.07 L524.9 135.9 L523.55 135.69 L522.3 135.49 L521.13 135.26 L520.02 135 L518.95 134.68 L517.91 134.29 L516.88 133.81 L515.85 133.22 L514.79 132.51 L513.7 131.65 L512.57 130.63 L511.42 129.46 L510.25 128.15 L509.09 126.74 L507.92 125.24 L506.78 123.67 L505.65 122.06 L504.56 120.43 L503.51 118.8 L502.5 117.2 L501.54 115.62 L500.61 113.93 L499.72 112.17 L498.86 110.38 L498.02 108.57 L497.2 106.79 L496.41 105.06 L495.63 103.42 L494.86 101.89 L494.1 100.51 L493.35 99.24 L492.61 98.03 L491.89 96.88 L491.18 95.81 L490.49 94.82 L489.83 93.91 L489.18 93.09 L488.55 92.37 L487.95 91.75 L487.38 91.24 L486.85 90.82 L486.38 90.49 L485.94 90.25 L485.53 90.11 L485.14 90.06 L484.75 90.11 L484.34 90.27 L483.9 90.5 L483.43 90.71 L482.9 91.02 L482.32 91.45 L481.71 91.99 L481.07 92.64 L480.4 93.39 L479.72 94.24 L479.02 95.18 L478.31 96.2 L477.6 97.3 L476.88 98.48 L476.18 99.71 L475.44 101.13 L474.64 102.8 L473.81 104.64 L472.96 106.59 L472.12 108.57 L471.31 110.51 L470.57 112.33 L469.9 113.96 L469.34 115.32 L468.9 116.35 Z" fill="#8888cc" fill-opacity="0.5"/>
<path d="M468.9 121.45 L469.4 120.74 L470.06 119.81 L470.84 118.69 L471.71 117.44 L472.64 116.11 L473.62 114.75 L474.6 113.4 L475.56 112.13 L476.47 110.97 L477.3 109.97 L478.08 109.11 L478.85 108.31 L479.62 107.55 L480.37 106.85 L481.11 106.2 L481.84 105.6 L482.55 105.04 L483.25 104.52 L483.93 104.04 L484.58 103.6 L485.2 103.2 L485.79 102.83 L486.35 102.52 L486.89 102.24 L487.41 102.01 L487.94 101.81 L488.47 101.67 L489.02 101.56 L489.58 101.5 L490.18 101.47 L490.8 101.48 L491.42 101.51 L492.04 101.57 L492.68 101.67 L493.33 101.82 L494 102.03 L494.68 102.3 L495.39 102.64 L496.13 103.08 L496.9 103.6 L497.7 104.25 L498.52 105.02 L499.37 105.9 L500.24 106.86 L501.13 107.88 L502.05 108.92 L502.98 109.98 L503.92 111.02 L504.89 112.02 L505.86 112.95 L506.87 113.86 L507.92 114.79 L509 115.72 L510.1 116.66 L511.22 117.57 L512.32 118.46 L513.42 119.3 L514.49 120.09 L515.52 120.81 L516.5 121.45 L517.43 122 L518.32 122.46 L519.18 122.86 L520.02 123.2 L520.84 123.5 L521.65 123.77 L522.45 124.02 L523.26 124.28 L524.07 124.55 L524.9 124.85 L525.74 125.17 L526.58 125.49 L527.42 125.81 L528.26 126.13 L529.1 126.44 L529.94 126.75 L530.78 127.04 L531.62 127.32 L532.46 127.58 L533.3 127.82 L534.13 128.05 L534.94 128.27 L535.73 128.47 L536.53 128.66 L537.32 128.83 L538.14 129 L538.97 129.15 L539.84 129.29 L540.75 129.41 L541.7 129.52 L542.72 129.61 L543.81 129.66 L544.94 129.69 L546.11 129.71 L547.3 129.71 L548.49 129.72 L549.66 129.74 L550.79 129.78 L551.88 129.84 L552.9 129.95 L553.84 130.08 L554.71 130.21 L555.54 130.36 L556.33 130.51 L557.1 130.69 L557.87 130.9 L558.66 131.13 L559.49 131.41 L560.36 131.72 L561.3 132.07 L562.36 132.51 L563.54 133.05 L564.81 133.66 L566.12 134.31 L567.42 134.97 L568.69 135.62 L569.88 136.24 L570.93 136.79 L571.82 137.26 L572.5 137.6" fill="none" stroke="#e8392a" stroke-width="1.25"/>
<path d="M468.9 115.92 L469.4 114.96 L470.04 113.68 L470.8 112.15 L471.66 110.44 L472.57 108.62 L473.54 106.76 L474.52 104.91 L475.49 103.16 L476.42 101.57 L477.3 100.2 L478.16 98.98 L479.04 97.81 L479.94 96.69 L480.85 95.63 L481.74 94.65 L482.62 93.75 L483.47 92.96 L484.27 92.27 L485.02 91.71 L485.7 91.27 L486.3 90.97 L486.81 90.79 L487.26 90.72 L487.67 90.76 L488.04 90.9 L488.41 91.14 L488.79 91.47 L489.2 91.89 L489.66 92.4 L490.18 92.97 L490.75 93.65 L491.35 94.45 L491.98 95.36 L492.63 96.36 L493.3 97.44 L493.98 98.58 L494.69 99.79 L495.41 101.03 L496.15 102.31 L496.9 103.6 L497.66 104.96 L498.43 106.44 L499.21 108.01 L500 109.63 L500.82 111.28 L501.66 112.92 L502.52 114.54 L503.41 116.09 L504.34 117.56 L505.3 118.9 L506.29 120.17 L507.32 121.42 L508.37 122.63 L509.44 123.8 L510.55 124.9 L511.68 125.94 L512.85 126.89 L514.04 127.74 L515.25 128.48 L516.5 129.1 L517.77 129.56 L519.08 129.86 L520.41 130.03 L521.76 130.09 L523.15 130.08 L524.56 130.03 L526.01 129.96 L527.48 129.9 L528.97 129.89 L530.5 129.95 L532.09 130.06 L533.77 130.16 L535.51 130.27 L537.29 130.39 L539.08 130.51 L540.85 130.63 L542.58 130.77 L544.25 130.91 L545.83 131.06 L547.3 131.22 L548.65 131.4 L549.9 131.58 L551.07 131.76 L552.18 131.95 L553.25 132.15 L554.29 132.37 L555.32 132.59 L556.35 132.83 L557.41 133.08 L558.5 133.35 L559.62 133.64 L560.74 133.96 L561.86 134.3 L562.98 134.66 L564.1 135.02 L565.22 135.39 L566.34 135.75 L567.46 136.1 L568.58 136.44 L569.7 136.75 L570.87 137.05 L572.12 137.36 L573.41 137.66 L574.72 137.95 L576 138.24 L577.23 138.5 L578.36 138.75 L579.38 138.97 L580.23 139.15 L580.9 139.3" fill="none" stroke="#e41fe6" stroke-width="1.25"/>
<path d="M468.9 112.1 L469.34 110.97 L469.9 109.47 L470.57 107.68 L471.31 105.68 L472.12 103.55 L472.96 101.37 L473.81 99.23 L474.64 97.2 L475.44 95.37 L476.18 93.82 L476.88 92.49 L477.6 91.23 L478.31 90.07 L479.02 88.99 L479.72 88.01 L480.4 87.11 L481.07 86.31 L481.71 85.6 L482.32 84.99 L482.9 84.47 L483.43 84.05 L483.9 83.71 L484.34 83.45 L484.75 83.29 L485.14 83.23 L485.53 83.26 L485.94 83.4 L486.38 83.65 L486.85 84 L487.38 84.47 L487.95 85.07 L488.55 85.8 L489.18 86.65 L489.83 87.61 L490.49 88.67 L491.18 89.82 L491.89 91.05 L492.61 92.34 L493.35 93.7 L494.1 95.1 L494.86 96.61 L495.63 98.26 L496.41 100.02 L497.2 101.86 L498.02 103.76 L498.86 105.68 L499.72 107.59 L500.61 109.45 L501.54 111.25 L502.5 112.95 L503.51 114.6 L504.56 116.25 L505.65 117.9 L506.78 119.52 L507.92 121.1 L509.09 122.63 L510.25 124.08 L511.42 125.44 L512.57 126.7 L513.7 127.82 L514.79 128.83 L515.85 129.72 L516.88 130.51 L517.91 131.21 L518.95 131.84 L520.02 132.39 L521.13 132.9 L522.3 133.36 L523.55 133.79 L524.9 134.2 L526.35 134.56 L527.9 134.84 L529.53 135.05 L531.22 135.22 L532.95 135.34 L534.71 135.44 L536.48 135.54 L538.25 135.63 L539.99 135.75 L541.7 135.9 L543.35 136.06 L544.97 136.22 L546.56 136.37 L548.15 136.52 L549.75 136.67 L551.38 136.83 L553.05 137 L554.78 137.18 L556.59 137.38 L558.5 137.6 L560.61 137.86 L562.98 138.16 L565.51 138.49 L568.13 138.84 L570.75 139.19 L573.28 139.54 L575.65 139.86 L577.76 140.15 L579.54 140.39 L580.9 140.57" fill="none" stroke="#4a86f0" stroke-width="1.25"/>
<path d="M468.9 112.1 L469.34 110.98 L469.9 109.49 L470.57 107.71 L471.31 105.72 L472.12 103.6 L472.96 101.43 L473.81 99.29 L474.64 97.26 L475.44 95.41 L476.18 93.82 L476.88 92.43 L477.6 91.1 L478.31 89.84 L479.02 88.65 L479.72 87.56 L480.4 86.55 L481.07 85.65 L481.71 84.86 L482.32 84.18 L482.9 83.62 L483.43 83.19 L483.9 82.87 L484.34 82.66 L484.75 82.56 L485.14 82.56 L485.53 82.67 L485.94 82.87 L486.38 83.17 L486.85 83.56 L487.38 84.05 L487.95 84.64 L488.55 85.34 L489.18 86.15 L489.83 87.06 L490.49 88.06 L491.18 89.15 L491.89 90.32 L492.61 91.56 L493.35 92.88 L494.1 94.25 L494.86 95.74 L495.63 97.37 L496.41 99.12 L497.2 100.96 L498.02 102.86 L498.86 104.78 L499.72 106.69 L500.61 108.57 L501.54 110.38 L502.5 112.1 L503.51 113.78 L504.56 115.49 L505.65 117.2 L506.78 118.89 L507.92 120.55 L509.09 122.14 L510.25 123.64 L511.42 125.03 L512.57 126.29 L513.7 127.4 L514.79 128.34 L515.85 129.13 L516.88 129.8 L517.91 130.36 L518.95 130.83 L520.02 131.22 L521.13 131.57 L522.3 131.89 L523.55 132.19 L524.9 132.5 L526.37 132.79 L527.95 133.01 L529.62 133.19 L531.35 133.33 L533.12 133.43 L534.91 133.51 L536.69 133.58 L538.43 133.64 L540.11 133.7 L541.7 133.77 L543.23 133.84 L544.72 133.87 L546.19 133.87 L547.64 133.86 L549.05 133.85 L550.44 133.86 L551.79 133.88 L553.12 133.94 L554.43 134.04 L555.7 134.2 L556.93 134.42 L558.12 134.68 L559.27 134.99 L560.38 135.33 L561.48 135.69 L562.55 136.07 L563.63 136.46 L564.7 136.85 L565.79 137.23 L566.9 137.6 L568.07 137.98 L569.32 138.4 L570.61 138.84 L571.92 139.28 L573.2 139.72 L574.43 140.15 L575.56 140.55 L576.58 140.9 L577.43 141.2 L578.1 141.42" fill="none" stroke="#101088" stroke-width="1.25"/>
<rect x="582" y="76.3" width="15.68" height="13.2" fill="#111"/>
<rect x="597.62" y="76.3" width="15.68" height="13.2" fill="#050505"/>
<rect x="613.25" y="76.3" width="15.68" height="13.2" fill="#e87a5c"/>
<rect x="628.88" y="76.3" width="15.68" height="13.2" fill="#fcfbc6"/>
<rect x="582" y="89.45" width="15.68" height="13.2" fill="#050505"/>
<rect x="597.62" y="89.45" width="15.68" height="13.2" fill="#111"/>
<rect x="613.25" y="89.45" width="15.68" height="13.2" fill="#050505"/>
<rect x="628.88" y="89.45" width="15.68" height="13.2" fill="#5e2386"/>
<rect x="582" y="102.6" width="15.68" height="13.2" fill="#e87a5c"/>
<rect x="597.62" y="102.6" width="15.68" height="13.2" fill="#050505"/>
<rect x="613.25" y="102.6" width="15.68" height="13.2" fill="#111"/>
<rect x="628.88" y="102.6" width="15.68" height="13.2" fill="#050505"/>
<rect x="582" y="115.75" width="15.68" height="13.2" fill="#fcfbc6"/>
<rect x="597.62" y="115.75" width="15.68" height="13.2" fill="#5e2386"/>
<rect x="613.25" y="115.75" width="15.68" height="13.2" fill="#050505"/>
<rect x="628.88" y="115.75" width="15.68" height="13.2" fill="#111"/>
<g stroke="#777" stroke-width="0.35" stroke-opacity="0.6">
<line x1="582" y1="76.3" x2="582" y2="128.9"/>
<line x1="582" y1="76.3" x2="644.5" y2="76.3"/>
<line x1="597.62" y1="76.3" x2="597.62" y2="128.9"/>
<line x1="582" y1="89.45" x2="644.5" y2="89.45"/>
<line x1="613.25" y1="76.3" x2="613.25" y2="128.9"/>
<line x1="582" y1="102.6" x2="644.5" y2="102.6"/>
<line x1="628.88" y1="76.3" x2="628.88" y2="128.9"/>
<line x1="582" y1="115.75" x2="644.5" y2="115.75"/>
<line x1="644.5" y1="76.3" x2="644.5" y2="128.9"/>
<line x1="582" y1="128.9" x2="644.5" y2="128.9"/>
</g>
<text x="589.81" y="73.2" font-size="8" text-anchor="middle" fill="#111" font-weight="normal" >1</text>
<text x="605.44" y="73.2" font-size="8" text-anchor="middle" fill="#111" font-weight="normal" >2</text>
<text x="621.06" y="73.2" font-size="8" text-anchor="middle" fill="#111" font-weight="normal" >3</text>
<text x="636.69" y="73.2" font-size="8" text-anchor="middle" fill="#111" font-weight="normal" >4</text>
<path d="M579.3 96.3 C569.2 97.8 569.2 107.2 578.4 108.2" fill="none" stroke="#ee1c1c" stroke-width="1.35"/>
<path d="M580.6 108.2 L577.4 106.3 L578 110.1 Z" fill="#ee1c1c"/>
<rect x="661" y="70" width="4.3" height="8.35" fill="#050505"/>
<rect x="661" y="78.3" width="4.3" height="8.25" fill="#17103f"/>
<rect x="661" y="86.5" width="4.3" height="8.35" fill="#3d1a6e"/>
<rect x="661" y="94.8" width="4.3" height="8.15" fill="#6a2a8c"/>
<rect x="661" y="102.9" width="4.3" height="8.25" fill="#a84478"/>
<rect x="661" y="111.1" width="4.3" height="8.35" fill="#e47a62"/>
<rect x="661" y="119.4" width="4.3" height="8.15" fill="#f8c08a"/>
<rect x="661" y="127.5" width="4.3" height="8.85" fill="#fcf6c4"/>
<line x1="661" y1="70.4" x2="665.3" y2="70.4" stroke="#444" stroke-width="0.3"/>
<text x="665.7" y="72.6" font-size="6" text-anchor="start" fill="#222" font-weight="normal" >1.00</text>
<line x1="661" y1="78.55" x2="665.3" y2="78.55" stroke="#444" stroke-width="0.3"/>
<text x="665.7" y="80.75" font-size="6" text-anchor="start" fill="#222" font-weight="normal" >0.10</text>
<line x1="661" y1="86.7" x2="665.3" y2="86.7" stroke="#444" stroke-width="0.3"/>
<text x="665.7" y="88.9" font-size="6" text-anchor="start" fill="#222" font-weight="normal" >0.06</text>
<line x1="661" y1="94.85" x2="665.3" y2="94.85" stroke="#444" stroke-width="0.3"/>
<text x="665.7" y="97.05" font-size="6" text-anchor="start" fill="#222" font-weight="normal" >0.05</text>
<line x1="661" y1="103" x2="665.3" y2="103" stroke="#444" stroke-width="0.3"/>
<text x="665.7" y="105.2" font-size="6" text-anchor="start" fill="#222" font-weight="normal" >0.04</text>
<line x1="661" y1="111.15" x2="665.3" y2="111.15" stroke="#444" stroke-width="0.3"/>
<text x="665.7" y="113.35" font-size="6" text-anchor="start" fill="#222" font-weight="normal" >0.03</text>
<line x1="661" y1="119.3" x2="665.3" y2="119.3" stroke="#444" stroke-width="0.3"/>
<text x="665.7" y="121.5" font-size="6" text-anchor="start" fill="#222" font-weight="normal" >0.02</text>
<line x1="661" y1="127.45" x2="665.3" y2="127.45" stroke="#444" stroke-width="0.3"/>
<text x="665.7" y="129.65" font-size="6" text-anchor="start" fill="#222" font-weight="normal" >0.01</text>
<line x1="661" y1="135.6" x2="665.3" y2="135.6" stroke="#444" stroke-width="0.3"/>
<text x="665.7" y="137.8" font-size="6" text-anchor="start" fill="#222" font-weight="normal" >0.00</text>
<text x="669.6" y="63.1" font-size="6" text-anchor="middle" fill="#222" font-weight="normal" >p-value</text>
<path d="M658.5 95 Q656.3 95 656.3 97 L656.3 113 Q656.3 115 653.6 115 Q656.3 115 656.3 117 L656.3 133.5 Q656.3 135.6 658.5 135.6" fill="none" stroke="#ee2222" stroke-width="0.8"/>
<text x="649.3" y="120.6" font-size="11" text-anchor="middle" fill="#111" font-weight="normal" >*</text>
<defs>
<linearGradient id="gbar" x1="0" x2="1" y1="0" y2="0"><stop offset="0" stop-color="#b4b4b4"/><stop offset="0.12" stop-color="#8c8c8c"/><stop offset="0.25" stop-color="#6c6c6c"/><stop offset="0.38" stop-color="#8a8a8a"/><stop offset="0.5" stop-color="#b8b8b8"/><stop offset="0.65" stop-color="#d8d8d8"/><stop offset="0.8" stop-color="#e4e4e4"/><stop offset="1" stop-color="#eaeaea"/></linearGradient>
<linearGradient id="gbf1" x1="0" x2="1" y1="0" y2="0"><stop offset="0" stop-color="#6a6a6a"/><stop offset="0.14" stop-color="#2a2a2a"/><stop offset="0.22" stop-color="#151515"/><stop offset="0.3" stop-color="#303030"/><stop offset="0.45" stop-color="#888888"/><stop offset="0.6" stop-color="#c8c8c8"/><stop offset="0.75" stop-color="#e0e0e0"/><stop offset="1" stop-color="#ebebeb"/></linearGradient>
<linearGradient id="gbf2" x1="0" x2="1" y1="0" y2="0"><stop offset="0" stop-color="#8a8a8a"/><stop offset="0.15" stop-color="#555555"/><stop offset="0.28" stop-color="#333333"/><stop offset="0.38" stop-color="#444444"/><stop offset="0.5" stop-color="#909090"/><stop offset="0.65" stop-color="#cfcfcf"/><stop offset="0.8" stop-color="#e2e2e2"/><stop offset="1" stop-color="#ebebeb"/></linearGradient>
<linearGradient id="gleg" x1="0" x2="1" y1="0" y2="0"><stop offset="0" stop-color="#ffffff"/><stop offset="0.25" stop-color="#d2d2d2"/><stop offset="0.5" stop-color="#959595"/><stop offset="0.75" stop-color="#4e4e4e"/><stop offset="1" stop-color="#000000"/></linearGradient>
</defs>
<rect x="63.9" y="191.4" width="135.6" height="70.9" fill="#f3eef4"/>
<clipPath id="cp1"><rect x="63.8" y="191.4" width="135.7" height="70.9"/></clipPath><g clip-path="url(#cp1)">
<path d="M74.6 262.3 C75 240 86 218 108 212 C118 209.5 140 209 162 209.1 C175 209 185 208 190.8 206.5 C195 205.6 198 205.4 199.5 205.4 L199.5 262.3 Z" fill="#e1d3e7"/>
<path d="M87.1 262.3 C87.1 240.12 104.66 222.7 127 222.7 C149.4 222.7 167 240.12 167 262.3 Z" fill="#b98ec6"/>
<path d="M95.1 262.3 C95.1 244.27 108.52 230.1 125.6 230.1 C142.68 230.1 156.1 244.27 156.1 262.3 Z" fill="#701587"/>
<path d="M124.5 259.5 C123.33 257.83 121.17 256.83 119 256 C116.83 255.17 113.2 255.5 111.5 254.5 C109.8 253.5 109.13 251.75 108.8 250 C108.47 248.25 108.8 245.67 109.5 244 C110.2 242.33 111.25 241.07 113 240 C114.75 238.93 117.5 238.07 120 237.6 C122.5 237.13 125.17 237.05 128 237.2 C130.83 237.35 134.33 237.7 137 238.5 C139.67 239.3 142.28 240.5 144 242 C145.72 243.5 146.63 245.17 147.3 247.5 C147.97 249.83 147.85 252.92 148 256 C148.15 259.08 151.87 264.33 148.2 266 C144.53 267.67 129.95 267.08 126 266 C122.05 264.92 125.67 261.17 124.5 259.5 Z" fill="#913e8a"/>
</g>
<path d="M119.3 262.1 L132.6 250.7 L145.7 262.1" fill="none" stroke="#111" stroke-width="0.8"/>
<circle cx="119.3" cy="262.1" r="2.9" fill="#1414e8"/>
<circle cx="132.6" cy="250.7" r="2.9" fill="#3a8a2a"/>
<circle cx="145.7" cy="262.1" r="2.9" fill="#ea3e2a"/>
<g stroke="#333" stroke-width="0.9" fill="none">
<line x1="63.4" y1="191.1" x2="63.4" y2="265.6"/>
<line x1="60.4" y1="262.3" x2="199.5" y2="262.3"/>
<line x1="60.4" y1="191.4" x2="63.4" y2="191.4"/>
<line x1="60.4" y1="226.85" x2="63.4" y2="226.85"/>
<line x1="84.4" y1="262.3" x2="84.4" y2="265.1"/>
<line x1="118.3" y1="262.3" x2="118.3" y2="265.1"/>
<line x1="152.2" y1="262.3" x2="152.2" y2="265.1"/>
<line x1="186.1" y1="262.3" x2="186.1" y2="265.1"/>
</g>
<text x="60.2" y="195.7" font-size="8" text-anchor="end" fill="#2a2a2a" font-weight="normal" >1.0</text>
<text x="60.2" y="231.15" font-size="8" text-anchor="end" fill="#2a2a2a" font-weight="normal" >0.5</text>
<text x="60.2" y="266.6" font-size="8" text-anchor="end" fill="#2a2a2a" font-weight="normal" >0.0</text>
<text x="89.96" y="273.8" font-size="8" text-anchor="end" fill="#2a2a2a" font-weight="normal" >-0.5</text>
<text x="118.3" y="273.8" font-size="8" text-anchor="middle" fill="#2a2a2a" font-weight="normal" >0.0</text>
<text x="152.2" y="273.8" font-size="8" text-anchor="middle" fill="#2a2a2a" font-weight="normal" >0.5</text>
<text x="186.1" y="273.8" font-size="8" text-anchor="middle" fill="#2a2a2a" font-weight="normal" >1.0</text>
<text x="66.3" y="206" font-size="12.3" text-anchor="start" fill="#111" font-weight="bold" >B</text>
<text x="198.3" y="201.7" font-size="8.7" text-anchor="end" fill="#222" font-weight="normal" >&#916;800PPE: pre-nc13</text>
<rect x="117.5" y="279" width="82" height="2.6" fill="url(#gbar)"/>
<text x="88.6" y="290" font-size="7" text-anchor="middle" fill="#333" font-weight="normal" >X (&#181;m)</text>
<text transform="translate(43 235) rotate(-90)" font-size="7" text-anchor="middle" fill="#333">Y (&#181;m)</text>
<rect x="223" y="192.9" width="134.6" height="69.3" fill="#f3eef4"/>
<clipPath id="cp2"><rect x="222.9" y="192.9" width="134.7" height="69.3"/></clipPath><g clip-path="url(#cp2)">
<path d="M234.7 262.2 C235 234 262 213.5 295 213.5 C325 213.5 350 221 357.6 234 L357.6 262.2 Z" fill="#e1d3e7"/>
<path d="M244 262.2 C244 239.8 262.04 222.2 285 222.2 C308.3 222.2 326.6 239.8 326.6 262.2 Z" fill="#b98ec6"/>
<path d="M249.5 262.2 C249.5 242.26 264.68 226.6 284 226.6 C303.49 226.6 318.8 242.26 318.8 262.2 Z" fill="#701587"/>
<path d="M254.5 262.2 C254.5 244.45 267.48 230.5 284 230.5 C300.58 230.5 313.6 244.45 313.6 262.2 Z" fill="#8b3a8b"/>
<path d="M286 256 C283.08 253.87 276.28 254.45 273 253.2 C269.72 251.95 267.3 250.37 266.3 248.5 C265.3 246.63 265.72 244.03 267 242 C268.28 239.97 270.67 237.57 274 236.3 C277.33 235.03 282.67 234.37 287 234.4 C291.33 234.43 296.58 235.23 300 236.5 C303.42 237.77 305.87 239.75 307.5 242 C309.13 244.25 309.38 246 309.8 250 C310.22 254 313.22 263.33 310 266 C306.78 268.67 294.5 267.67 290.5 266 C286.5 264.33 288.92 258.13 286 256 Z" fill="#b06a80"/>
<path d="M285 240.3 C286.67 239.73 290 240.07 292 240.6 C294 241.13 296.33 242.18 297 243.5 C297.67 244.82 297.17 247.58 296 248.5 C294.83 249.42 292 249.17 290 249 C288 248.83 285.33 248.33 284 247.5 C282.67 246.67 281.83 245.2 282 244 C282.17 242.8 283.33 240.87 285 240.3 Z" fill="#dca088"/>
</g>
<path d="M277.4 262 L290.8 245.3 L300.5 262" fill="none" stroke="#111" stroke-width="0.8"/>
<circle cx="277.4" cy="262" r="2.9" fill="#1414e8"/>
<circle cx="290.8" cy="245.3" r="2.9" fill="#3a8a2a"/>
<circle cx="300.5" cy="262" r="2.9" fill="#ea3e2a"/>
<g stroke="#333" stroke-width="0.9" fill="none">
<line x1="222.5" y1="192.6" x2="222.5" y2="265.5"/>
<line x1="219.5" y1="262.2" x2="357.6" y2="262.2"/>
<line x1="219.5" y1="192.9" x2="222.5" y2="192.9"/>
<line x1="219.5" y1="227.55" x2="222.5" y2="227.55"/>
<line x1="243" y1="262.2" x2="243" y2="265"/>
<line x1="276.9" y1="262.2" x2="276.9" y2="265"/>
<line x1="310.8" y1="262.2" x2="310.8" y2="265"/>
<line x1="344.7" y1="262.2" x2="344.7" y2="265"/>
</g>
<text x="219.3" y="197.2" font-size="8" text-anchor="end" fill="#2a2a2a" font-weight="normal" >1.0</text>
<text x="219.3" y="231.85" font-size="8" text-anchor="end" fill="#2a2a2a" font-weight="normal" >0.5</text>
<text x="219.3" y="266.5" font-size="8" text-anchor="end" fill="#2a2a2a" font-weight="normal" >0.0</text>
<text x="248.56" y="273.7" font-size="8" text-anchor="end" fill="#2a2a2a" font-weight="normal" >-0.5</text>
<text x="276.9" y="273.7" font-size="8" text-anchor="middle" fill="#2a2a2a" font-weight="normal" >0.0</text>
<text x="310.8" y="273.7" font-size="8" text-anchor="middle" fill="#2a2a2a" font-weight="normal" >0.5</text>
<text x="344.7" y="273.7" font-size="8" text-anchor="middle" fill="#2a2a2a" font-weight="normal" >1.0</text>
<text x="224.5" y="205.8" font-size="12.3" text-anchor="start" fill="#111" font-weight="bold" >C</text>
<text x="355.1" y="201.8" font-size="8.7" text-anchor="end" fill="#222" font-weight="normal" >&#916;800PPE: nc13</text>
<rect x="276.4" y="279" width="81.2" height="2.6" fill="url(#gbar)"/>
<rect x="381.1" y="193.4" width="135.7" height="69.1" fill="#f3eef4"/>
<clipPath id="cp3"><rect x="381" y="193.4" width="135.8" height="69.1"/></clipPath><g clip-path="url(#cp3)">
<path d="M397 262.5 C397 236 418 216.7 447 216.7 C478 216.7 508 226 510.5 245 L511.5 262.5 Z" fill="#e1d3e7"/>
<path d="M404.2 262.5 C404.2 241 422.15 224.1 445 224.1 C468.52 224.1 487 241 487 262.5 Z" fill="#b98ec6"/>
<path d="M408.1 262.5 C408.1 243.07 423.46 227.8 443 227.8 C462.49 227.8 477.8 243.07 477.8 262.5 Z" fill="#701587"/>
<path d="M412.1 262.5 C412.1 245.08 425.7 231.4 443 231.4 C460.25 231.4 473.8 245.08 473.8 262.5 Z" fill="#8b3a8b"/>
<path d="M415.4 262.5 C415.4 246.6 427.54 234.1 443 234.1 C458.4 234.1 470.5 246.6 470.5 262.5 Z" fill="#a45a8a"/>
<path d="M418.4 262.5 C418.4 247.83 429.22 236.3 443 236.3 C456.94 236.3 467.9 247.83 467.9 262.5 Z" fill="#c08888"/>
<path d="M420.6 262.5 C420.6 249.28 430.46 238.9 443 238.9 C455.88 238.9 466 249.28 466 262.5 Z" fill="#d8a080"/>
<path d="M435 256 C433.28 253.57 430.4 253.03 429.2 251.4 C428 249.77 427.58 247.83 427.8 246.2 C428.02 244.57 428.73 242.82 430.5 241.6 C432.27 240.38 435.12 239.35 438.4 238.9 C441.68 238.45 446.7 238.35 450.2 238.9 C453.7 239.45 457.22 240.33 459.4 242.2 C461.58 244.07 462.5 246.13 463.3 250.1 C464.1 254.07 468.17 263.35 464.2 266 C460.23 268.65 444.37 267.67 439.5 266 C434.63 264.33 436.72 258.43 435 256 Z" fill="#f0c078"/>
<path d="M444 241.5 C446 240.75 449.67 240.92 452 241.5 C454.33 242.08 456.83 243.25 458 245 C459.17 246.75 459.5 250.17 459 252 C458.5 253.83 456.83 256 455 256 C453.17 256 450.5 253.67 448 252 C445.5 250.33 440.67 247.75 440 246 C439.33 244.25 442 242.25 444 241.5 Z" fill="#f6c86e"/>
</g>
<path d="M435.7 262.4 L448.6 249 L457.3 262.4" fill="none" stroke="#111" stroke-width="0.8"/>
<circle cx="435.7" cy="262.4" r="2.9" fill="#1414e8"/>
<circle cx="448.6" cy="249" r="2.9" fill="#3a8a2a"/>
<circle cx="457.3" cy="262.4" r="2.9" fill="#ea3e2a"/>
<g stroke="#333" stroke-width="0.9" fill="none">
<line x1="380.6" y1="193.1" x2="380.6" y2="265.8"/>
<line x1="377.6" y1="262.5" x2="516.8" y2="262.5"/>
<line x1="377.6" y1="193.4" x2="380.6" y2="193.4"/>
<line x1="377.6" y1="227.95" x2="380.6" y2="227.95"/>
<line x1="401.8" y1="262.5" x2="401.8" y2="265.3"/>
<line x1="435.7" y1="262.5" x2="435.7" y2="265.3"/>
<line x1="469.6" y1="262.5" x2="469.6" y2="265.3"/>
<line x1="503.5" y1="262.5" x2="503.5" y2="265.3"/>
</g>
<text x="377.4" y="197.7" font-size="8" text-anchor="end" fill="#2a2a2a" font-weight="normal" >1.0</text>
<text x="377.4" y="232.25" font-size="8" text-anchor="end" fill="#2a2a2a" font-weight="normal" >0.5</text>
<text x="377.4" y="266.8" font-size="8" text-anchor="end" fill="#2a2a2a" font-weight="normal" >0.0</text>
<text x="407.36" y="274" font-size="8" text-anchor="end" fill="#2a2a2a" font-weight="normal" >-0.5</text>
<text x="435.7" y="274" font-size="8" text-anchor="middle" fill="#2a2a2a" font-weight="normal" >0.0</text>
<text x="469.6" y="274" font-size="8" text-anchor="middle" fill="#2a2a2a" font-weight="normal" >0.5</text>
<text x="503.5" y="274" font-size="8" text-anchor="middle" fill="#2a2a2a" font-weight="normal" >1.0</text>
<text x="383.3" y="206" font-size="12.3" text-anchor="start" fill="#111" font-weight="bold" >D</text>
<text x="516.3" y="202" font-size="8.7" text-anchor="end" fill="#222" font-weight="normal" >&#916;800PPE: nc14 early</text>
<rect x="434.4" y="279" width="82.4" height="2.6" fill="url(#gbar)"/>
<rect x="540.1" y="194.4" width="134.9" height="68.4" fill="#f3eef4"/>
<clipPath id="cp4"><rect x="540" y="194.4" width="135" height="68.4"/></clipPath><g clip-path="url(#cp4)">
<path d="M555 262.8 C555 237 575 218 604 218 C636 218 662 228 665 245 L666.4 262.8 Z" fill="#e1d3e7"/>
<path d="M562.9 262.8 C562.9 241.69 580.1 225.1 602 225.1 C624.01 225.1 641.3 241.69 641.3 262.8 Z" fill="#b98ec6"/>
<path d="M566.8 262.8 C566.8 243.76 581.85 228.8 601 228.8 C620.1 228.8 635.1 243.76 635.1 262.8 Z" fill="#701587"/>
<path d="M570.7 262.8 C570.7 245.38 584.03 231.7 601 231.7 C618.25 231.7 631.8 245.38 631.8 262.8 Z" fill="#8b3a8b"/>
<path d="M574 262.8 C574 246.84 585.88 234.3 601 234.3 C616.68 234.3 629 246.84 629 262.8 Z" fill="#a45a8a"/>
<path d="M577.3 262.8 C577.3 248.35 587.73 237 601 237 C614.94 237 625.9 248.35 625.9 262.8 Z" fill="#c08888"/>
<path d="M580 262.8 C580 249.42 589.24 238.9 601 238.9 C613.49 238.9 623.3 249.42 623.3 262.8 Z" fill="#d8a080"/>
<path d="M583.2 262.8 C583.2 250.14 591.03 240.2 601 240.2 C611.81 240.2 620.3 250.14 620.3 262.8 Z" fill="#f0c078"/>
<path d="M596 244.5 C598.17 243.42 602.33 243.08 605 243.5 C607.67 243.92 610.83 245.25 612 247 C613.17 248.75 613.17 252.58 612 254 C610.83 255.42 607.33 255.5 605 255.5 C602.67 255.5 600.17 254.92 598 254 C595.83 253.08 592.33 251.58 592 250 C591.67 248.42 593.83 245.58 596 244.5 Z" fill="#f4c068"/>
<path d="M588.5 259 C589.4 257.55 591.68 257.22 593 257.3 C594.32 257.38 595.77 258.05 596.4 259.5 C597.03 260.95 598.27 264.92 596.8 266 C595.33 267.08 588.98 267.17 587.6 266 C586.22 264.83 587.6 260.45 588.5 259 Z" fill="#c08888"/>
</g>
<path d="M593.9 262.6 L603.1 249.5 L613.5 262.6" fill="none" stroke="#111" stroke-width="0.8"/>
<circle cx="593.9" cy="262.6" r="2.9" fill="#1414e8"/>
<circle cx="603.1" cy="249.5" r="2.9" fill="#3a8a2a"/>
<circle cx="613.5" cy="262.6" r="2.9" fill="#ea3e2a"/>
<g stroke="#333" stroke-width="0.9" fill="none">
<line x1="539.6" y1="194.1" x2="539.6" y2="266.1"/>
<line x1="536.6" y1="262.8" x2="675" y2="262.8"/>
<line x1="536.6" y1="194.4" x2="539.6" y2="194.4"/>
<line x1="536.6" y1="228.6" x2="539.6" y2="228.6"/>
<line x1="560" y1="262.8" x2="560" y2="265.6"/>
<line x1="593.9" y1="262.8" x2="593.9" y2="265.6"/>
<line x1="627.8" y1="262.8" x2="627.8" y2="265.6"/>
<line x1="661.7" y1="262.8" x2="661.7" y2="265.6"/>
</g>
<text x="536.4" y="198.7" font-size="8" text-anchor="end" fill="#2a2a2a" font-weight="normal" >1.0</text>
<text x="536.4" y="232.9" font-size="8" text-anchor="end" fill="#2a2a2a" font-weight="normal" >0.5</text>
<text x="536.4" y="267.1" font-size="8" text-anchor="end" fill="#2a2a2a" font-weight="normal" >0.0</text>
<text x="565.56" y="274.3" font-size="8" text-anchor="end" fill="#2a2a2a" font-weight="normal" >-0.5</text>
<text x="599.46" y="274.3" font-size="8" text-anchor="end" fill="#2a2a2a" font-weight="normal" >-0.0</text>
<text x="627.8" y="274.3" font-size="8" text-anchor="middle" fill="#2a2a2a" font-weight="normal" >0.5</text>
<text x="661.7" y="274.3" font-size="8" text-anchor="middle" fill="#2a2a2a" font-weight="normal" >1.0</text>
<text x="544.5" y="206" font-size="12.3" text-anchor="start" fill="#111" font-weight="bold" >E</text>
<text x="671.8" y="202.3" font-size="8.7" text-anchor="end" fill="#222" font-weight="normal" >&#916;800PPE: nc14 late</text>
<rect x="593.9" y="279" width="81.1" height="2.6" fill="url(#gbar)"/>
<rect x="28.5" y="267.76" width="5.1" height="6.59" fill="#f4eff6"/>
<rect x="28.5" y="261.21" width="5.1" height="6.59" fill="#e2d4ea"/>
<rect x="28.5" y="254.67" width="5.1" height="6.59" fill="#bb92cc"/>
<rect x="28.5" y="248.13" width="5.1" height="6.59" fill="#620a82"/>
<rect x="28.5" y="241.59" width="5.1" height="6.59" fill="#7a2a8c"/>
<rect x="28.5" y="235.04" width="5.1" height="6.59" fill="#a05a8a"/>
<rect x="28.5" y="228.5" width="5.1" height="6.59" fill="#d0907e"/>
<rect x="28.5" y="221.96" width="5.1" height="6.59" fill="#f0c486"/>
<rect x="28.5" y="215.41" width="5.1" height="6.59" fill="#f4c274"/>
<rect x="28.5" y="208.87" width="5.1" height="6.59" fill="#f2b060"/>
<rect x="28.5" y="202.33" width="5.1" height="6.59" fill="#f09c48"/>
<rect x="28.5" y="195.79" width="5.1" height="6.59" fill="#ee8a3a"/>
<rect x="28.5" y="189.24" width="5.1" height="6.59" fill="#ec7632"/>
<rect x="28.5" y="182.7" width="5.1" height="6.59" fill="#e8602a"/>
<rect x="28.5" y="182.7" width="5.1" height="91.6" fill="none" stroke="#bbb" stroke-width="0.3"/>
<text x="26" y="275.7" font-size="6.6" text-anchor="end" fill="#2a2a2a" font-weight="normal" >0.0</text>
<text x="26" y="262.92" font-size="6.6" text-anchor="end" fill="#2a2a2a" font-weight="normal" >0.5</text>
<text x="26" y="250.14" font-size="6.6" text-anchor="end" fill="#2a2a2a" font-weight="normal" >1.0</text>
<text x="26" y="237.36" font-size="6.6" text-anchor="end" fill="#2a2a2a" font-weight="normal" >1.5</text>
<text x="26" y="224.58" font-size="6.6" text-anchor="end" fill="#2a2a2a" font-weight="normal" >2.0</text>
<text x="26" y="211.8" font-size="6.6" text-anchor="end" fill="#2a2a2a" font-weight="normal" >2.5</text>
<text x="26" y="199.02" font-size="6.6" text-anchor="end" fill="#2a2a2a" font-weight="normal" >3.0</text>
<text x="26" y="186.24" font-size="6.6" text-anchor="end" fill="#2a2a2a" font-weight="normal" >3.5</text>
<text transform="translate(11 232.5) rotate(-90)" font-size="7" text-anchor="middle" fill="#333">f (x,y) Probability density</text>
<rect x="95" y="325.8" width="156.7" height="79.1" fill="#e5e2e3"/>
<clipPath id="cp5"><rect x="95" y="325.8" width="156.7" height="79.1"/></clipPath><g clip-path="url(#cp5)">
<path d="M208 325.8 C211 337 214 344 221 353.6 C226 359 231 364 234.5 368 C238 373 239.3 380 239.5 386 L240.3 404.9 L251.7 404.9 L251.7 325.8 Z" fill="#cad3d8"/>
<path d="M123 404.9 C123 380 140 361.1 163.2 361.1 C185 361.1 200 370 204.8 384.2 L207 404.9 Z" fill="#ecbdbd"/>
<path d="M148 376.5 C150.35 374.22 154.67 372.35 158 371.2 C161.33 370.05 164.33 369.63 168 369.6 C171.67 369.57 176.67 370.18 180 371 C183.33 371.82 186.07 372.83 188 374.5 C189.93 376.17 191.1 378.58 191.6 381 C192.1 383.42 191.35 386.65 191 389 C190.65 391.35 190.97 394.2 189.5 395.1 C188.03 396 184.45 395.17 182.2 394.4 C179.95 393.63 177.95 391.32 176 390.5 C174.05 389.68 173.17 389.7 170.5 389.5 C167.83 389.3 163.17 389.22 160 389.3 C156.83 389.38 153.83 390.13 151.5 390 C149.17 389.87 147.27 389.35 146 388.5 C144.73 387.65 143.57 386.9 143.9 384.9 C144.23 382.9 145.65 378.78 148 376.5 Z" fill="#df8e8e"/>
</g>
<path d="M157.9 404.6 L172.6 392.5 L187.3 404.5" fill="none" stroke="#111" stroke-width="0.7" stroke-dasharray="1.6 1"/>
<path d="M157.9 404.6 L172.6 385.3 L184 404.5" fill="none" stroke="#111" stroke-width="0.7"/>
<rect x="154" y="400.8" width="7.8" height="7.6" fill="#2828f2" fill-opacity="0.78" stroke="#2020d0" stroke-width="0.5"/>
<circle cx="172.6" cy="385.3" r="3.6" fill="#3f8a2c" fill-opacity="0.8"/>
<rect x="168.5" y="388.9" width="8" height="7.6" fill="none" stroke="#6f9f55" stroke-width="0.8" fill-opacity="0.8"/>
<circle cx="184" cy="404.5" r="3.6" fill="#ea3a3a" fill-opacity="0.85"/>
<rect x="183.55" y="401.1" width="7.5" height="6.8" fill="none" stroke="#ee2a2a" stroke-width="0.8"/>
<g stroke="#333" stroke-width="0.9" fill="none">
<line x1="94.6" y1="324.5" x2="94.6" y2="409.5"/>
<line x1="91.6" y1="404.9" x2="251.7" y2="404.9"/>
<line x1="91.6" y1="325.8" x2="94.6" y2="325.8"/>
<line x1="91.6" y1="365.35" x2="94.6" y2="365.35"/>
<line x1="118.6" y1="404.9" x2="118.6" y2="407.7"/>
<line x1="157.6" y1="404.9" x2="157.6" y2="407.7"/>
<line x1="196.6" y1="404.9" x2="196.6" y2="407.7"/>
<line x1="235.6" y1="404.9" x2="235.6" y2="407.7"/>
</g>
<text x="91.4" y="329.4" font-size="8.2" text-anchor="end" fill="#2a2a2a" font-weight="normal" >1.0</text>
<text x="91.4" y="368.95" font-size="8.2" text-anchor="end" fill="#2a2a2a" font-weight="normal" >0.5</text>
<text x="91.4" y="408.5" font-size="8.2" text-anchor="end" fill="#2a2a2a" font-weight="normal" >0.0</text>
<text x="124.3" y="414.6" font-size="8.2" text-anchor="end" fill="#2a2a2a" font-weight="normal" >-0.5</text>
<text x="157.6" y="414.6" font-size="8.2" text-anchor="middle" fill="#2a2a2a" font-weight="normal" >0.0</text>
<text x="196.6" y="414.6" font-size="8.2" text-anchor="middle" fill="#2a2a2a" font-weight="normal" >0.5</text>
<text x="235.6" y="414.6" font-size="8.2" text-anchor="middle" fill="#2a2a2a" font-weight="normal" >1.0</text>
<text x="99.3" y="337" font-size="11.5" text-anchor="start" fill="#111" font-weight="bold" >F</text>
<text x="238.8" y="336.1" font-size="8.7" text-anchor="end" fill="#222">&#916;800PPE: <tspan fill="#ee2222">nc13</tspan></text>
<text x="238.8" y="345.1" font-size="8.7" text-anchor="end" fill="#222">- <tspan fill="#2222ee">pre-nc13</tspan></text>
<circle cx="243.9" cy="332.4" r="3.7" fill="none" stroke="#666" stroke-width="0.8"/>
<rect x="240.2" y="338.1" width="7.2" height="7" fill="none" stroke="#666" stroke-width="0.8"/>
<rect x="156.1" y="420.1" width="93.6" height="2.6" fill="url(#gbf1)"/>
<rect x="156.1" y="425.2" width="93.6" height="2.6" fill="url(#gbf2)"/>
<rect x="156.1" y="420.1" width="93.6" height="2.6" fill="none" stroke="#bbb" stroke-width="0.4"/>
<rect x="156.1" y="425.2" width="93.6" height="2.6" fill="none" stroke="#bbb" stroke-width="0.4"/>
<rect x="303.3" y="325.6" width="163.7" height="81" fill="#e5e2e3"/>
<clipPath id="cp6"><rect x="303.3" y="325.6" width="163.7" height="81"/></clipPath><g clip-path="url(#cp6)">
<path d="M349.6 365.6 C353.12 363.83 356.77 362.98 360.6 361.9 C364.43 360.82 369.45 359.38 372.6 359.1 C375.75 358.82 378.73 359.5 379.5 360.2 C380.27 360.9 379.88 362.63 377.2 363.3 C374.52 363.97 367.23 363.43 363.4 364.2 C359.57 364.97 357.27 366.37 354.2 367.9 C351.13 369.43 347.6 371.95 345 373.4 C342.4 374.85 339.52 376.75 338.6 376.6 C337.68 376.45 337.67 374.33 339.5 372.5 C341.33 370.67 346.08 367.37 349.6 365.6 Z" fill="#cdd5d9"/>
<path d="M337.5 378 C333 382.5 331 388 329 394 L326 402.6" fill="none" stroke="#d2d9dc" stroke-width="1.1" stroke-dasharray="1.3 1.6"/>
<path d="M341.2 406.6 C341.2 388 356 374.1 375.5 374.1 C395 374.1 410 384 413.4 398 L414 406.6 Z" fill="#f3c5c5"/>
<path d="M348.5 406.6 C348.5 390.86 360.6 378.5 376 378.5 C392.86 378.5 406.1 390.86 406.1 406.6 Z" fill="#eba2a2"/>
<path d="M360.8 399 C361.17 395.75 361.33 392.97 363.2 390.5 C365.07 388.03 368.87 385.48 372 384.2 C375.13 382.92 378.67 382.67 382 382.8 C385.33 382.93 389.33 383.63 392 385 C394.67 386.37 396.7 388.83 398 391 C399.3 393.17 399.47 394.83 399.8 398 C400.13 401.17 406.47 408 400 410 C393.53 412 367.53 411.83 361 410 C354.47 408.17 360.43 402.25 360.8 399 Z" fill="#e2685e"/>
<path d="M376 399 C375.75 395.92 376.17 393.25 377.5 391.5 C378.83 389.75 381.83 388.58 384 388.5 C386.17 388.42 388.75 389.25 390.5 391 C392.25 392.75 393.25 395.83 394.5 399 C395.75 402.17 400.58 408.17 398 410 C395.42 411.83 382.67 411.83 379 410 C375.33 408.17 376.25 402.08 376 399 Z" fill="#d84a3c"/>
</g>
<path d="M369 406 L384.4 389 L395.3 406" fill="none" stroke="#111" stroke-width="0.7" stroke-dasharray="1.6 1"/>
<path d="M369 406 L384.3 391.1 L394.2 406" fill="none" stroke="#111" stroke-width="0.7"/>
<rect x="365.1" y="402.2" width="7.8" height="7.6" fill="#2828f2" fill-opacity="0.78" stroke="#2020d0" stroke-width="0.5"/>
<circle cx="384.3" cy="391.1" r="3.6" fill="#3f8a2c" fill-opacity="0.8"/>
<rect x="380.4" y="383.4" width="8" height="7.6" fill="none" stroke="#6f9f55" stroke-width="0.8" fill-opacity="0.8"/>
<circle cx="394.2" cy="406" r="3.6" fill="#ea3a3a" fill-opacity="0.85"/>
<rect x="391.55" y="402.5" width="7.5" height="6.8" fill="none" stroke="#ee2a2a" stroke-width="0.8"/>
<rect x="360" y="407.6" width="40" height="4" fill="#fff"/>
<g stroke="#333" stroke-width="0.9" fill="none">
<line x1="302.9" y1="324.3" x2="302.9" y2="412"/>
<line x1="299.9" y1="406.6" x2="467" y2="406.6"/>
<line x1="299.9" y1="325.6" x2="302.9" y2="325.6"/>
<line x1="299.9" y1="366.1" x2="302.9" y2="366.1"/>
<line x1="327.45" y1="406.6" x2="327.45" y2="409.4"/>
<line x1="368.2" y1="406.6" x2="368.2" y2="409.4"/>
<line x1="408.95" y1="406.6" x2="408.95" y2="409.4"/>
<line x1="449.7" y1="406.6" x2="449.7" y2="409.4"/>
</g>
<text x="299.7" y="329.2" font-size="8.2" text-anchor="end" fill="#2a2a2a" font-weight="normal" >1.0</text>
<text x="299.7" y="369.7" font-size="8.2" text-anchor="end" fill="#2a2a2a" font-weight="normal" >0.5</text>
<text x="299.7" y="410.2" font-size="8.2" text-anchor="end" fill="#2a2a2a" font-weight="normal" >0.0</text>
<text x="333.15" y="416.3" font-size="8.2" text-anchor="end" fill="#2a2a2a" font-weight="normal" >-0.5</text>
<text x="368.2" y="416.3" font-size="8.2" text-anchor="middle" fill="#2a2a2a" font-weight="normal" >0.0</text>
<text x="408.95" y="416.3" font-size="8.2" text-anchor="middle" fill="#2a2a2a" font-weight="normal" >0.5</text>
<text x="449.7" y="416.3" font-size="8.2" text-anchor="middle" fill="#2a2a2a" font-weight="normal" >1.0</text>
<text x="307.5" y="337.3" font-size="11.5" text-anchor="start" fill="#111" font-weight="bold" >G</text>
<text x="451.8" y="336.1" font-size="9.1" text-anchor="end" fill="#222">&#916;800PPE:<tspan fill="#ee2222">nc14 early</tspan></text>
<text x="451.8" y="345.1" font-size="9.1" text-anchor="end" fill="#222">- <tspan fill="#2222ee">nc13</tspan></text>
<circle cx="459.7" cy="332.4" r="3.7" fill="none" stroke="#666" stroke-width="0.8"/>
<rect x="456" y="338.1" width="7.2" height="7" fill="none" stroke="#666" stroke-width="0.8"/>
<rect x="368.2" y="420.1" width="98.8" height="2.6" fill="url(#gbf1)"/>
<rect x="368.2" y="425.2" width="98.8" height="2.6" fill="url(#gbf2)"/>
<rect x="368.2" y="420.1" width="98.8" height="2.6" fill="none" stroke="#bbb" stroke-width="0.4"/>
<rect x="368.2" y="425.2" width="98.8" height="2.6" fill="none" stroke="#bbb" stroke-width="0.4"/>
<rect x="513.7" y="325.6" width="159.9" height="80.7" fill="#e5e2e3"/>
<clipPath id="cp7"><rect x="513.7" y="325.6" width="159.9" height="80.7"/></clipPath><g clip-path="url(#cp7)">
<path d="M561.1 406.3 C561.1 396.95 567.66 389.6 576 389.6 C584.29 389.6 590.8 396.95 590.8 406.3 Z" fill="#efc4c4"/>
<path d="M598.5 378.3 C600.43 379.48 604.13 382.55 606.3 384.3 C608.47 386.05 610.28 387.08 611.5 388.8 C612.72 390.52 613.05 392.45 613.6 394.6 C614.15 396.75 614.48 399.13 614.8 401.7 C615.12 404.27 617.63 408.62 615.5 410 C613.37 411.38 604.4 411.5 602 410 C599.6 408.5 601.57 403.78 601.1 401 C600.63 398.22 600.05 395.77 599.2 393.3 C598.35 390.83 597.23 388.35 596 386.2 C594.77 384.05 592.02 381.9 591.8 380.4 C591.58 378.9 593.58 377.55 594.7 377.2 C595.82 376.85 596.57 377.12 598.5 378.3 Z" fill="#cad3d8"/>
</g>
<path d="M578 406 L588.6 391 L602.7 406" fill="none" stroke="#111" stroke-width="0.7" stroke-dasharray="1.6 1"/>
<path d="M578 406 L588.6 391 L600.8 405.8" fill="none" stroke="#111" stroke-width="0.7"/>
<rect x="574.1" y="402.2" width="7.8" height="7.6" fill="#2828f2" fill-opacity="0.78" stroke="#2020d0" stroke-width="0.5"/>
<circle cx="588.6" cy="391" r="3.6" fill="#3f8a2c" fill-opacity="0.8"/>
<rect x="584.6" y="387.2" width="8" height="7.6" fill="#6aaa5a" stroke="#4a9a38" stroke-width="0.8" fill-opacity="0.8"/>
<circle cx="600.8" cy="405.8" r="3.6" fill="#ea3a3a" fill-opacity="0.85"/>
<rect x="598.95" y="402.6" width="7.5" height="6.8" fill="none" stroke="#ee2a2a" stroke-width="0.8"/>
<g stroke="#333" stroke-width="0.9" fill="none">
<line x1="513.3" y1="324.3" x2="513.3" y2="413.8"/>
<line x1="510.3" y1="406.3" x2="673.6" y2="406.3"/>
<line x1="510.3" y1="325.6" x2="513.3" y2="325.6"/>
<line x1="510.3" y1="365.95" x2="513.3" y2="365.95"/>
<line x1="537.55" y1="406.3" x2="537.55" y2="409.1"/>
<line x1="577.8" y1="406.3" x2="577.8" y2="409.1"/>
<line x1="618.05" y1="406.3" x2="618.05" y2="409.1"/>
<line x1="658.3" y1="406.3" x2="658.3" y2="409.1"/>
</g>
<text x="510.1" y="329.2" font-size="8.2" text-anchor="end" fill="#2a2a2a" font-weight="normal" >1.0</text>
<text x="510.1" y="369.55" font-size="8.2" text-anchor="end" fill="#2a2a2a" font-weight="normal" >0.5</text>
<text x="510.1" y="409.9" font-size="8.2" text-anchor="end" fill="#2a2a2a" font-weight="normal" >0.0</text>
<text x="543.25" y="416" font-size="8.2" text-anchor="end" fill="#2a2a2a" font-weight="normal" >-0.5</text>
<text x="577.8" y="416" font-size="8.2" text-anchor="middle" fill="#2a2a2a" font-weight="normal" >0.0</text>
<text x="618.05" y="416" font-size="8.2" text-anchor="middle" fill="#2a2a2a" font-weight="normal" >0.5</text>
<text x="658.3" y="416" font-size="8.2" text-anchor="middle" fill="#2a2a2a" font-weight="normal" >1.0</text>
<text x="517.8" y="337" font-size="11.5" text-anchor="start" fill="#111" font-weight="bold" >H</text>
<text x="661.3" y="336.1" font-size="8.9" text-anchor="end" fill="#222">&#916;800PPE:&#160; <tspan fill="#ee2222">nc14 late</tspan></text>
<text x="661.3" y="345.1" font-size="8.9" text-anchor="end" fill="#222">- <tspan fill="#2222ee">nc14 early</tspan></text>
<circle cx="666.9" cy="332.4" r="3.7" fill="none" stroke="#666" stroke-width="0.8"/>
<rect x="663.2" y="338.1" width="7.2" height="7" fill="none" stroke="#666" stroke-width="0.8"/>
<rect x="577.7" y="420.4" width="95.9" height="2.6" fill="url(#gbf1)"/>
<rect x="577.7" y="425.6" width="95.9" height="2.6" fill="url(#gbf2)"/>
<rect x="577.7" y="420.4" width="95.9" height="2.6" fill="none" stroke="#bbb" stroke-width="0.4"/>
<rect x="577.7" y="425.6" width="95.9" height="2.6" fill="none" stroke="#bbb" stroke-width="0.4"/>
<rect x="28.2" y="406.82" width="4.9" height="5.33" fill="#0c2458"/>
<rect x="28.2" y="401.54" width="4.9" height="5.33" fill="#143470"/>
<rect x="28.2" y="396.26" width="4.9" height="5.33" fill="#1c4488"/>
<rect x="28.2" y="390.98" width="4.9" height="5.33" fill="#2858a0"/>
<rect x="28.2" y="385.71" width="4.9" height="5.33" fill="#3870b0"/>
<rect x="28.2" y="380.43" width="4.9" height="5.33" fill="#5088c0"/>
<rect x="28.2" y="375.15" width="4.9" height="5.33" fill="#78a8d4"/>
<rect x="28.2" y="369.87" width="4.9" height="5.33" fill="#a0c4e0"/>
<rect x="28.2" y="364.59" width="4.9" height="5.33" fill="#c8d4dc"/>
<rect x="28.2" y="359.31" width="4.9" height="5.33" fill="#e4e4e4"/>
<rect x="28.2" y="354.03" width="4.9" height="5.33" fill="#ecbcbc"/>
<rect x="28.2" y="348.75" width="4.9" height="5.33" fill="#e48080"/>
<rect x="28.2" y="343.47" width="4.9" height="5.33" fill="#d85050"/>
<rect x="28.2" y="338.19" width="4.9" height="5.33" fill="#c83838"/>
<rect x="28.2" y="332.92" width="4.9" height="5.33" fill="#b02c2c"/>
<rect x="28.2" y="327.64" width="4.9" height="5.33" fill="#942020"/>
<rect x="28.2" y="322.36" width="4.9" height="5.33" fill="#781418"/>
<rect x="28.2" y="317.08" width="4.9" height="5.33" fill="#580a0e"/>
<rect x="28.2" y="311.8" width="4.9" height="5.33" fill="#3a0606"/>
<text x="25.3" y="315.5" font-size="6.6" text-anchor="end" fill="#2a2a2a" font-weight="normal" >1.8</text>
<text x="25.3" y="331.8" font-size="6.6" text-anchor="end" fill="#2a2a2a" font-weight="normal" >1.2</text>
<text x="25.3" y="348.5" font-size="6.6" text-anchor="end" fill="#2a2a2a" font-weight="normal" >0.6</text>
<text x="25.3" y="364.8" font-size="6.6" text-anchor="end" fill="#2a2a2a" font-weight="normal" >0.0</text>
<text x="25.3" y="381.6" font-size="6.6" text-anchor="end" fill="#2a2a2a" font-weight="normal" >-0.6</text>
<text x="25.3" y="398.3" font-size="6.6" text-anchor="end" fill="#2a2a2a" font-weight="normal" >-1.2</text>
<text x="25.3" y="414.1" font-size="6.6" text-anchor="end" fill="#2a2a2a" font-weight="normal" >-1.8</text>
<text transform="translate(9.3 361.5) rotate(-90)" font-size="7" text-anchor="middle" fill="#333">&#916;f (x,y)</text>
<text x="8.4" y="471.1" font-size="8.7" text-anchor="start" fill="#111" font-weight="bold" >Global p-value:</text>
<text x="8.4" y="503.7" font-size="8.7" text-anchor="start" fill="#111" font-weight="bold" >Interpretation:</text>
<text x="182.7" y="470.8" font-size="8.7" text-anchor="middle" fill="#222" font-weight="normal" >Not significant</text>
<text x="597.3" y="470.8" font-size="8.7" text-anchor="middle" fill="#222" font-weight="normal" >Not significant</text>
<text x="392.5" y="471.4" font-size="8.7" text-anchor="middle" fill="#222" font-weight="normal" >p = 0.0039 driven by</text>
<text x="392.8" y="479.7" font-size="8.7" text-anchor="middle" fill="#222" font-weight="normal" >E1-PPE, E2-PPE</text>
<text x="392.5" y="503.6" font-size="8.7" text-anchor="middle" fill="#222" font-weight="normal" >PPE is closer to both E1 and E2</text>
<text x="392.8" y="512.4" font-size="8.7" text-anchor="middle" fill="#222" font-weight="normal" >at nc14 early compared to nc13</text>
<rect x="161.4" y="524.3" width="407.9" height="64.4" fill="#fff" stroke="#8a8a8a" stroke-width="0.9"/>
<circle cx="168.6" cy="532.7" r="4.8" fill="#127512"/>
<circle cx="168.6" cy="553.3" r="4.8" fill="#0000ee"/>
<circle cx="168.6" cy="573.2" r="4.8" fill="#ee0000"/>
<text x="175.8" y="534.2" font-size="8.2" text-anchor="start" fill="#e81c1c" font-weight="normal" >PPE MPP</text>
<text x="175.8" y="542.6" font-size="8.2" text-anchor="start" fill="#e81c1c" font-weight="normal" >contour 1</text>
<text x="175.8" y="555" font-size="8.2" text-anchor="start" fill="#e81c1c" font-weight="normal" >E1 contour 1</text>
<text x="175.8" y="574.7" font-size="8.2" text-anchor="start" fill="#e81c1c" font-weight="normal" >E2 MPP</text>
<text x="175.8" y="583" font-size="8.2" text-anchor="start" fill="#e81c1c" font-weight="normal" >contour 1</text>
<line x1="233.2" y1="533.1" x2="244.2" y2="533.1" stroke="#111" stroke-width="0.9" stroke-dasharray="2.2 0.9"/>
<line x1="233.9" y1="566.4" x2="245.2" y2="566.4" stroke="#111" stroke-width="0.9"/>
<text x="249.6" y="534.9" font-size="8.2" text-anchor="start" fill="#1c1ce8" font-weight="normal" >Mode</text>
<text x="249.6" y="543.6" font-size="8.2" text-anchor="start" fill="#1c1ce8" font-weight="normal" >distances</text>
<text x="249.6" y="551.7" font-size="8.2" text-anchor="start" fill="#1c1ce8" font-weight="normal" >contour 2</text>
<text x="248.5" y="569.3" font-size="8.2" text-anchor="start" fill="#e81c1c" font-weight="normal" >Mode</text>
<text x="248.5" y="577.4" font-size="8.2" text-anchor="start" fill="#e81c1c" font-weight="normal" >distances</text>
<text x="248.5" y="585.7" font-size="8.2" text-anchor="start" fill="#e81c1c" font-weight="normal" >contour 1</text>
<rect x="299.2" y="528.5" width="10.6" height="9.8" fill="none" stroke="#3a9a3a" stroke-width="0.9"/>
<rect x="299.2" y="548.4" width="10.6" height="10.6" fill="none" stroke="#4a4af0" stroke-width="0.9"/>
<rect x="299.2" y="569" width="10.6" height="10.2" fill="none" stroke="#f04a4a" stroke-width="0.9"/>
<text x="311.9" y="533.6" font-size="8.2" text-anchor="start" fill="#1c1ce8" font-weight="normal" >PPE MPP</text>
<text x="311.9" y="542.6" font-size="8.2" text-anchor="start" fill="#1c1ce8" font-weight="normal" >contour 2</text>
<text x="311.9" y="554.6" font-size="8.2" text-anchor="start" fill="#1c1ce8" font-weight="normal" >E1 contour 2</text>
<text x="311.9" y="574.7" font-size="8.2" text-anchor="start" fill="#1c1ce8" font-weight="normal" >E2 MPP</text>
<text x="311.9" y="583" font-size="8.2" text-anchor="start" fill="#1c1ce8" font-weight="normal" >contour 2</text>
<text x="386" y="553.6" font-size="7" text-anchor="start" fill="#222" font-weight="normal" >E1-E2 probability density</text>
<rect x="385.3" y="556.2" width="174.8" height="5.2" fill="url(#gleg)" stroke="#999" stroke-width="0.3"/>
<line x1="385.3" y1="561.4" x2="385.3" y2="563" stroke="#444" stroke-width="0.4"/>
<text x="385.3" y="568.8" font-size="6.2" text-anchor="middle" fill="#222" font-weight="normal" >0.0</text>
<line x1="407.15" y1="561.4" x2="407.15" y2="563" stroke="#444" stroke-width="0.4"/>
<text x="407.15" y="568.8" font-size="6.2" text-anchor="middle" fill="#222" font-weight="normal" >0.2</text>
<line x1="429" y1="561.4" x2="429" y2="563" stroke="#444" stroke-width="0.4"/>
<text x="429" y="568.8" font-size="6.2" text-anchor="middle" fill="#222" font-weight="normal" >0.4</text>
<line x1="450.85" y1="561.4" x2="450.85" y2="563" stroke="#444" stroke-width="0.4"/>
<text x="450.85" y="568.8" font-size="6.2" text-anchor="middle" fill="#222" font-weight="normal" >0.6</text>
<line x1="472.7" y1="561.4" x2="472.7" y2="563" stroke="#444" stroke-width="0.4"/>
<text x="472.7" y="568.8" font-size="6.2" text-anchor="middle" fill="#222" font-weight="normal" >0.8</text>
<line x1="494.55" y1="561.4" x2="494.55" y2="563" stroke="#444" stroke-width="0.4"/>
<text x="494.55" y="568.8" font-size="6.2" text-anchor="middle" fill="#222" font-weight="normal" >1.0</text>
<line x1="516.4" y1="561.4" x2="516.4" y2="563" stroke="#444" stroke-width="0.4"/>
<text x="516.4" y="568.8" font-size="6.2" text-anchor="middle" fill="#222" font-weight="normal" >1.2</text>
<line x1="538.25" y1="561.4" x2="538.25" y2="563" stroke="#444" stroke-width="0.4"/>
<text x="538.25" y="568.8" font-size="6.2" text-anchor="middle" fill="#222" font-weight="normal" >1.4</text>
<line x1="560.1" y1="561.4" x2="560.1" y2="563" stroke="#444" stroke-width="0.4"/>
<text x="560.1" y="568.8" font-size="6.2" text-anchor="middle" fill="#222" font-weight="normal" >1.6</text>
</svg></body></html>
